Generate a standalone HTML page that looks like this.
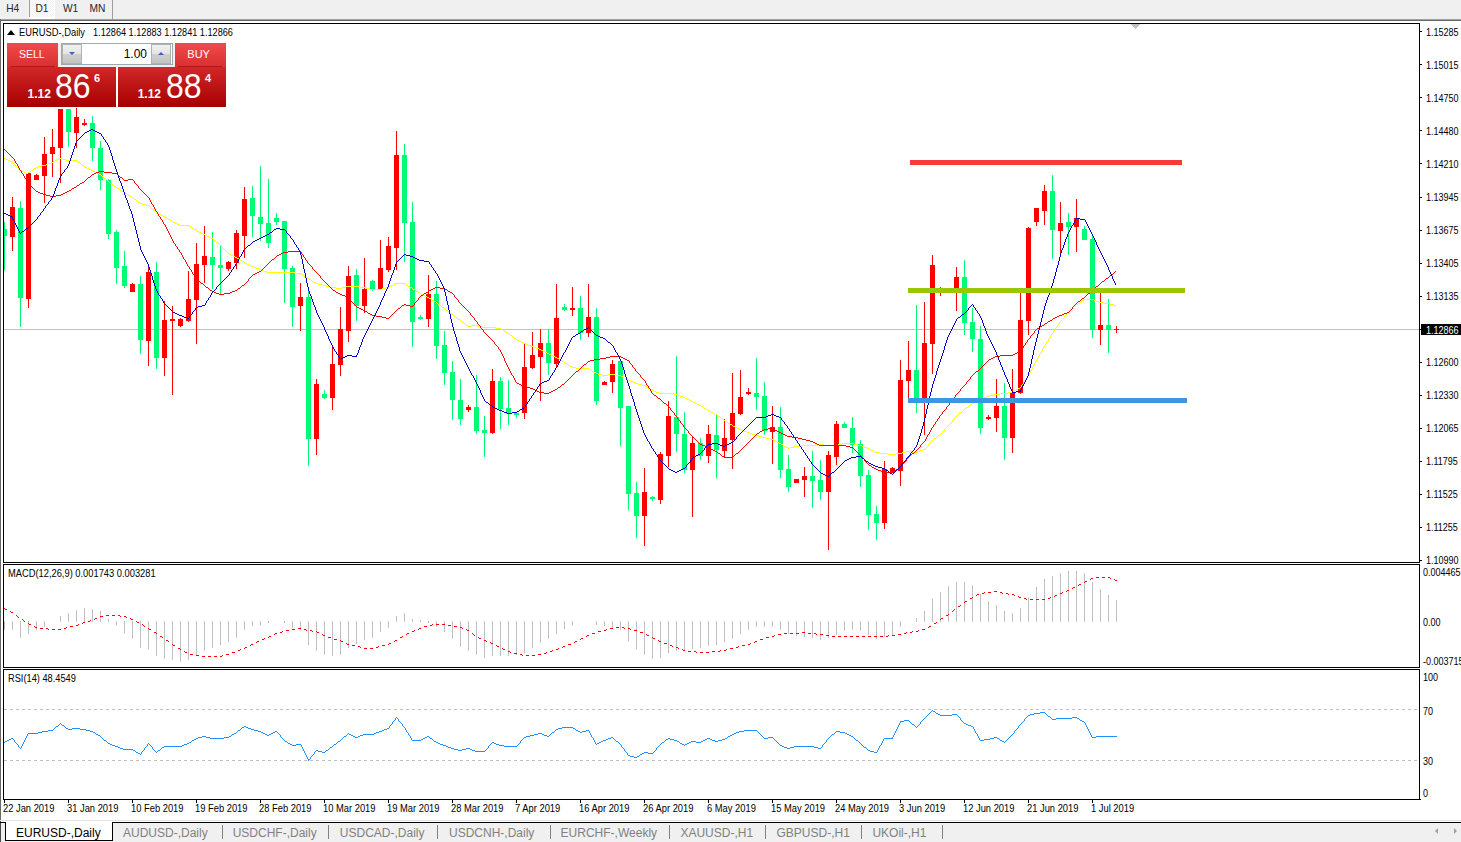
<!DOCTYPE html><html><head><meta charset="utf-8"><title>chart</title><style>
html,body{margin:0;padding:0;background:#fff;}
body{width:1461px;height:842px;overflow:hidden;position:relative;font-family:"Liberation Sans",sans-serif;}
.t{position:absolute;white-space:nowrap;color:#000;font-size:10px;line-height:10px;transform:scaleX(0.9);transform-origin:0 0;}
#tb{position:absolute;left:0;top:0;width:1461px;height:19px;background:#f0f0f0;}
#l19{position:absolute;left:0;top:19px;width:1461px;height:1px;background:#a0a0a0;}
#l20{position:absolute;left:0;top:20px;width:1461px;height:1px;background:#696969;}
.tbt{position:absolute;top:0.7px;font-size:10.2px;line-height:15px;color:#282828;}
#bot{position:absolute;left:0;top:823px;width:1461px;height:19px;background:#f0f0f0;}
#botl{position:absolute;left:0;top:822px;width:1461px;height:1px;background:#000;}
#botg{position:absolute;left:0;top:820px;width:1461px;height:1px;background:#e3e3e3;}
.tab{position:absolute;top:826px;font-size:12px;line-height:15px;color:#808080;white-space:nowrap;}
.sep{position:absolute;top:825px;width:1px;height:14px;background:#808080;}
#atab{position:absolute;left:5px;top:822px;width:106px;height:18px;background:#fff;border-left:1px solid #000;border-right:1px solid #000;border-bottom:1px solid #000;}
svg{position:absolute;left:0;top:0;}
.btn{position:absolute;color:#fff;}
</style></head><body>
<div id="tb"></div><div id="l19"></div><div id="l20"></div>
<div style="position:absolute;left:29px;top:0;width:26px;height:19px;background:#fff;"></div>
<div style="position:absolute;left:30px;top:0;width:24px;height:17px;background-color:#f0f0f0;background-image:linear-gradient(45deg,#fff 25%,transparent 25%,transparent 75%,#fff 75%),linear-gradient(45deg,#fff 25%,transparent 25%,transparent 75%,#fff 75%);background-size:2px 2px;background-position:0 0,1px 1px;"></div>
<div style="position:absolute;left:29px;top:0;width:1px;height:17px;background:#a0a0a0;"></div>
<div style="position:absolute;left:112px;top:0;width:1px;height:19px;background:#a0a0a0;"></div>
<div class="tbt" style="left:6.2px">H4</div>
<div class="tbt" style="left:35.4px">D1</div>
<div class="tbt" style="left:63px">W1</div>
<div class="tbt" style="left:89.5px">MN</div>
<svg width="1461" height="842" viewBox="0 0 1461 842" shape-rendering="crispEdges"><rect x="4" y="329" width="1415" height="1" fill="#c0c0c0"/>
<rect x="4" y="222" width="1" height="48" fill="#00fa7a"/>
<rect x="2" y="229" width="5" height="7" fill="#00fa7a"/>
<rect x="12" y="197" width="1" height="54" fill="#ff0000"/>
<rect x="10" y="207" width="5" height="30" fill="#ff0000"/>
<rect x="20" y="201" width="1" height="126" fill="#00fa7a"/>
<rect x="18" y="208" width="5" height="90" fill="#00fa7a"/>
<rect x="28" y="172" width="1" height="136" fill="#ff0000"/>
<rect x="26" y="173" width="5" height="126" fill="#ff0000"/>
<rect x="36" y="174" width="1" height="6" fill="#ff0000"/>
<rect x="34" y="175" width="5" height="5" fill="#ff0000"/>
<rect x="44" y="137" width="1" height="66" fill="#ff0000"/>
<rect x="42" y="154" width="5" height="22" fill="#ff0000"/>
<rect x="52" y="129" width="1" height="48" fill="#ff0000"/>
<rect x="50" y="147" width="5" height="7" fill="#ff0000"/>
<rect x="60" y="109" width="1" height="74" fill="#ff0000"/>
<rect x="58" y="109" width="5" height="39" fill="#ff0000"/>
<rect x="68" y="109" width="1" height="38" fill="#00fa7a"/>
<rect x="66" y="109" width="5" height="23" fill="#00fa7a"/>
<rect x="76" y="108" width="1" height="40" fill="#ff0000"/>
<rect x="74" y="117" width="5" height="16" fill="#ff0000"/>
<rect x="84" y="119" width="1" height="7" fill="#ff0000"/>
<rect x="82" y="123" width="5" height="2" fill="#ff0000"/>
<rect x="92" y="116" width="1" height="45" fill="#00fa7a"/>
<rect x="90" y="123" width="5" height="25" fill="#00fa7a"/>
<rect x="100" y="141" width="1" height="49" fill="#00fa7a"/>
<rect x="98" y="148" width="5" height="32" fill="#00fa7a"/>
<rect x="108" y="179" width="1" height="60" fill="#00fa7a"/>
<rect x="106" y="180" width="5" height="54" fill="#00fa7a"/>
<rect x="116" y="230" width="1" height="54" fill="#00fa7a"/>
<rect x="114" y="232" width="5" height="36" fill="#00fa7a"/>
<rect x="124" y="251" width="1" height="37" fill="#00fa7a"/>
<rect x="122" y="266" width="5" height="20" fill="#00fa7a"/>
<rect x="132" y="283" width="1" height="9" fill="#ff0000"/>
<rect x="130" y="284" width="5" height="8" fill="#ff0000"/>
<rect x="140" y="276" width="1" height="78" fill="#00fa7a"/>
<rect x="138" y="284" width="5" height="56" fill="#00fa7a"/>
<rect x="148" y="267" width="1" height="99" fill="#ff0000"/>
<rect x="146" y="272" width="5" height="69" fill="#ff0000"/>
<rect x="156" y="262" width="1" height="107" fill="#00fa7a"/>
<rect x="154" y="272" width="5" height="86" fill="#00fa7a"/>
<rect x="164" y="301" width="1" height="75" fill="#ff0000"/>
<rect x="162" y="320" width="5" height="38" fill="#ff0000"/>
<rect x="172" y="306" width="1" height="89" fill="#ff0000"/>
<rect x="170" y="319" width="5" height="2" fill="#ff0000"/>
<rect x="180" y="318" width="1" height="9" fill="#ff0000"/>
<rect x="178" y="319" width="5" height="7" fill="#ff0000"/>
<rect x="188" y="271" width="1" height="51" fill="#ff0000"/>
<rect x="186" y="299" width="5" height="22" fill="#ff0000"/>
<rect x="196" y="243" width="1" height="101" fill="#ff0000"/>
<rect x="194" y="264" width="5" height="36" fill="#ff0000"/>
<rect x="204" y="226" width="1" height="57" fill="#ff0000"/>
<rect x="202" y="256" width="5" height="9" fill="#ff0000"/>
<rect x="212" y="232" width="1" height="57" fill="#00fa7a"/>
<rect x="210" y="257" width="5" height="8" fill="#00fa7a"/>
<rect x="220" y="245" width="1" height="49" fill="#00fa7a"/>
<rect x="218" y="265" width="5" height="3" fill="#00fa7a"/>
<rect x="228" y="261" width="1" height="10" fill="#ff0000"/>
<rect x="226" y="262" width="5" height="7" fill="#ff0000"/>
<rect x="236" y="230" width="1" height="39" fill="#ff0000"/>
<rect x="234" y="233" width="5" height="30" fill="#ff0000"/>
<rect x="244" y="187" width="1" height="71" fill="#ff0000"/>
<rect x="242" y="199" width="5" height="37" fill="#ff0000"/>
<rect x="252" y="186" width="1" height="51" fill="#00fa7a"/>
<rect x="250" y="198" width="5" height="18" fill="#00fa7a"/>
<rect x="260" y="166" width="1" height="75" fill="#00fa7a"/>
<rect x="258" y="217" width="5" height="7" fill="#00fa7a"/>
<rect x="268" y="179" width="1" height="69" fill="#00fa7a"/>
<rect x="266" y="223" width="5" height="20" fill="#00fa7a"/>
<rect x="276" y="213" width="1" height="12" fill="#00fa7a"/>
<rect x="274" y="218" width="5" height="4" fill="#00fa7a"/>
<rect x="284" y="221" width="1" height="82" fill="#00fa7a"/>
<rect x="282" y="221" width="5" height="48" fill="#00fa7a"/>
<rect x="292" y="266" width="1" height="61" fill="#00fa7a"/>
<rect x="290" y="268" width="5" height="39" fill="#00fa7a"/>
<rect x="300" y="283" width="1" height="48" fill="#ff0000"/>
<rect x="298" y="297" width="5" height="9" fill="#ff0000"/>
<rect x="308" y="288" width="1" height="178" fill="#00fa7a"/>
<rect x="306" y="297" width="5" height="142" fill="#00fa7a"/>
<rect x="316" y="379" width="1" height="76" fill="#ff0000"/>
<rect x="314" y="384" width="5" height="55" fill="#ff0000"/>
<rect x="324" y="390" width="1" height="9" fill="#00fa7a"/>
<rect x="322" y="394" width="5" height="4" fill="#00fa7a"/>
<rect x="332" y="346" width="1" height="64" fill="#ff0000"/>
<rect x="330" y="364" width="5" height="34" fill="#ff0000"/>
<rect x="340" y="307" width="1" height="69" fill="#ff0000"/>
<rect x="338" y="329" width="5" height="36" fill="#ff0000"/>
<rect x="348" y="266" width="1" height="76" fill="#ff0000"/>
<rect x="346" y="276" width="5" height="55" fill="#ff0000"/>
<rect x="356" y="269" width="1" height="52" fill="#00fa7a"/>
<rect x="354" y="275" width="5" height="31" fill="#00fa7a"/>
<rect x="364" y="258" width="1" height="55" fill="#ff0000"/>
<rect x="362" y="289" width="5" height="17" fill="#ff0000"/>
<rect x="372" y="280" width="1" height="11" fill="#00fa7a"/>
<rect x="370" y="281" width="5" height="8" fill="#00fa7a"/>
<rect x="380" y="240" width="1" height="49" fill="#ff0000"/>
<rect x="378" y="268" width="5" height="21" fill="#ff0000"/>
<rect x="388" y="237" width="1" height="35" fill="#ff0000"/>
<rect x="386" y="246" width="5" height="24" fill="#ff0000"/>
<rect x="396" y="131" width="1" height="139" fill="#ff0000"/>
<rect x="394" y="155" width="5" height="93" fill="#ff0000"/>
<rect x="404" y="144" width="1" height="118" fill="#00fa7a"/>
<rect x="402" y="155" width="5" height="68" fill="#00fa7a"/>
<rect x="412" y="202" width="1" height="145" fill="#00fa7a"/>
<rect x="410" y="222" width="5" height="100" fill="#00fa7a"/>
<rect x="420" y="315" width="1" height="5" fill="#00fa7a"/>
<rect x="418" y="317" width="5" height="2" fill="#00fa7a"/>
<rect x="428" y="275" width="1" height="52" fill="#ff0000"/>
<rect x="426" y="294" width="5" height="25" fill="#ff0000"/>
<rect x="436" y="281" width="1" height="78" fill="#00fa7a"/>
<rect x="434" y="294" width="5" height="52" fill="#00fa7a"/>
<rect x="444" y="331" width="1" height="54" fill="#00fa7a"/>
<rect x="442" y="345" width="5" height="28" fill="#00fa7a"/>
<rect x="452" y="361" width="1" height="59" fill="#00fa7a"/>
<rect x="450" y="372" width="5" height="28" fill="#00fa7a"/>
<rect x="460" y="379" width="1" height="46" fill="#00fa7a"/>
<rect x="458" y="400" width="5" height="19" fill="#00fa7a"/>
<rect x="468" y="405" width="1" height="7" fill="#ff0000"/>
<rect x="466" y="407" width="5" height="3" fill="#ff0000"/>
<rect x="476" y="375" width="1" height="59" fill="#00fa7a"/>
<rect x="474" y="407" width="5" height="24" fill="#00fa7a"/>
<rect x="484" y="416" width="1" height="41" fill="#00fa7a"/>
<rect x="482" y="430" width="5" height="3" fill="#00fa7a"/>
<rect x="492" y="369" width="1" height="65" fill="#ff0000"/>
<rect x="490" y="381" width="5" height="52" fill="#ff0000"/>
<rect x="500" y="377" width="1" height="52" fill="#00fa7a"/>
<rect x="498" y="381" width="5" height="28" fill="#00fa7a"/>
<rect x="508" y="380" width="1" height="45" fill="#00fa7a"/>
<rect x="506" y="408" width="5" height="6" fill="#00fa7a"/>
<rect x="516" y="412" width="1" height="6" fill="#00fa7a"/>
<rect x="514" y="413" width="5" height="2" fill="#00fa7a"/>
<rect x="524" y="344" width="1" height="75" fill="#ff0000"/>
<rect x="522" y="367" width="5" height="46" fill="#ff0000"/>
<rect x="532" y="332" width="1" height="37" fill="#ff0000"/>
<rect x="530" y="355" width="5" height="13" fill="#ff0000"/>
<rect x="540" y="329" width="1" height="72" fill="#ff0000"/>
<rect x="538" y="343" width="5" height="14" fill="#ff0000"/>
<rect x="548" y="329" width="1" height="46" fill="#00fa7a"/>
<rect x="546" y="343" width="5" height="20" fill="#00fa7a"/>
<rect x="556" y="284" width="1" height="83" fill="#ff0000"/>
<rect x="554" y="318" width="5" height="46" fill="#ff0000"/>
<rect x="564" y="304" width="1" height="7" fill="#00fa7a"/>
<rect x="562" y="307" width="5" height="3" fill="#00fa7a"/>
<rect x="572" y="287" width="1" height="29" fill="#ff0000"/>
<rect x="570" y="308" width="5" height="2" fill="#ff0000"/>
<rect x="580" y="296" width="1" height="44" fill="#00fa7a"/>
<rect x="578" y="308" width="5" height="25" fill="#00fa7a"/>
<rect x="588" y="284" width="1" height="53" fill="#ff0000"/>
<rect x="586" y="317" width="5" height="16" fill="#ff0000"/>
<rect x="596" y="308" width="1" height="97" fill="#00fa7a"/>
<rect x="594" y="317" width="5" height="84" fill="#00fa7a"/>
<rect x="604" y="381" width="1" height="4" fill="#ff0000"/>
<rect x="602" y="382" width="5" height="3" fill="#ff0000"/>
<rect x="612" y="360" width="1" height="33" fill="#ff0000"/>
<rect x="610" y="364" width="5" height="18" fill="#ff0000"/>
<rect x="620" y="360" width="1" height="86" fill="#00fa7a"/>
<rect x="618" y="361" width="5" height="47" fill="#00fa7a"/>
<rect x="628" y="406" width="1" height="104" fill="#00fa7a"/>
<rect x="626" y="406" width="5" height="88" fill="#00fa7a"/>
<rect x="636" y="482" width="1" height="56" fill="#00fa7a"/>
<rect x="634" y="493" width="5" height="23" fill="#00fa7a"/>
<rect x="644" y="468" width="1" height="78" fill="#ff0000"/>
<rect x="642" y="492" width="5" height="24" fill="#ff0000"/>
<rect x="652" y="496" width="1" height="5" fill="#00fa7a"/>
<rect x="650" y="497" width="5" height="2" fill="#00fa7a"/>
<rect x="660" y="452" width="1" height="52" fill="#ff0000"/>
<rect x="658" y="454" width="5" height="46" fill="#ff0000"/>
<rect x="668" y="401" width="1" height="66" fill="#ff0000"/>
<rect x="666" y="416" width="5" height="40" fill="#ff0000"/>
<rect x="676" y="356" width="1" height="96" fill="#00fa7a"/>
<rect x="674" y="417" width="5" height="17" fill="#00fa7a"/>
<rect x="684" y="412" width="1" height="61" fill="#00fa7a"/>
<rect x="682" y="434" width="5" height="36" fill="#00fa7a"/>
<rect x="692" y="436" width="1" height="81" fill="#ff0000"/>
<rect x="690" y="443" width="5" height="27" fill="#ff0000"/>
<rect x="700" y="438" width="1" height="22" fill="#00fa7a"/>
<rect x="698" y="443" width="5" height="13" fill="#00fa7a"/>
<rect x="708" y="425" width="1" height="38" fill="#ff0000"/>
<rect x="706" y="434" width="5" height="22" fill="#ff0000"/>
<rect x="716" y="415" width="1" height="63" fill="#00fa7a"/>
<rect x="714" y="435" width="5" height="15" fill="#00fa7a"/>
<rect x="724" y="419" width="1" height="38" fill="#ff0000"/>
<rect x="722" y="438" width="5" height="13" fill="#ff0000"/>
<rect x="732" y="373" width="1" height="96" fill="#ff0000"/>
<rect x="730" y="413" width="5" height="27" fill="#ff0000"/>
<rect x="740" y="370" width="1" height="45" fill="#ff0000"/>
<rect x="738" y="397" width="5" height="17" fill="#ff0000"/>
<rect x="748" y="388" width="1" height="7" fill="#ff0000"/>
<rect x="746" y="392" width="5" height="2" fill="#ff0000"/>
<rect x="756" y="358" width="1" height="52" fill="#00fa7a"/>
<rect x="754" y="393" width="5" height="4" fill="#00fa7a"/>
<rect x="764" y="382" width="1" height="53" fill="#00fa7a"/>
<rect x="762" y="396" width="5" height="35" fill="#00fa7a"/>
<rect x="772" y="406" width="1" height="58" fill="#ff0000"/>
<rect x="770" y="427" width="5" height="5" fill="#ff0000"/>
<rect x="780" y="407" width="1" height="71" fill="#00fa7a"/>
<rect x="778" y="427" width="5" height="43" fill="#00fa7a"/>
<rect x="788" y="455" width="1" height="37" fill="#00fa7a"/>
<rect x="786" y="469" width="5" height="18" fill="#00fa7a"/>
<rect x="796" y="479" width="1" height="4" fill="#ff0000"/>
<rect x="794" y="479" width="5" height="4" fill="#ff0000"/>
<rect x="804" y="467" width="1" height="30" fill="#ff0000"/>
<rect x="802" y="476" width="5" height="4" fill="#ff0000"/>
<rect x="812" y="451" width="1" height="57" fill="#00fa7a"/>
<rect x="810" y="476" width="5" height="5" fill="#00fa7a"/>
<rect x="820" y="460" width="1" height="40" fill="#00fa7a"/>
<rect x="818" y="480" width="5" height="12" fill="#00fa7a"/>
<rect x="828" y="451" width="1" height="99" fill="#ff0000"/>
<rect x="826" y="455" width="5" height="37" fill="#ff0000"/>
<rect x="836" y="421" width="1" height="44" fill="#ff0000"/>
<rect x="834" y="424" width="5" height="33" fill="#ff0000"/>
<rect x="844" y="422" width="1" height="6" fill="#00fa7a"/>
<rect x="842" y="424" width="5" height="4" fill="#00fa7a"/>
<rect x="852" y="417" width="1" height="36" fill="#00fa7a"/>
<rect x="850" y="428" width="5" height="17" fill="#00fa7a"/>
<rect x="860" y="440" width="1" height="47" fill="#00fa7a"/>
<rect x="858" y="444" width="5" height="32" fill="#00fa7a"/>
<rect x="868" y="470" width="1" height="60" fill="#00fa7a"/>
<rect x="866" y="475" width="5" height="40" fill="#00fa7a"/>
<rect x="876" y="506" width="1" height="34" fill="#00fa7a"/>
<rect x="874" y="514" width="5" height="9" fill="#00fa7a"/>
<rect x="884" y="461" width="1" height="68" fill="#ff0000"/>
<rect x="882" y="469" width="5" height="54" fill="#ff0000"/>
<rect x="892" y="467" width="1" height="6" fill="#ff0000"/>
<rect x="890" y="468" width="5" height="5" fill="#ff0000"/>
<rect x="900" y="360" width="1" height="126" fill="#ff0000"/>
<rect x="898" y="380" width="5" height="91" fill="#ff0000"/>
<rect x="908" y="341" width="1" height="62" fill="#ff0000"/>
<rect x="906" y="370" width="5" height="11" fill="#ff0000"/>
<rect x="916" y="305" width="1" height="108" fill="#00fa7a"/>
<rect x="914" y="370" width="5" height="28" fill="#00fa7a"/>
<rect x="924" y="302" width="1" height="133" fill="#ff0000"/>
<rect x="922" y="343" width="5" height="55" fill="#ff0000"/>
<rect x="932" y="255" width="1" height="119" fill="#ff0000"/>
<rect x="930" y="265" width="5" height="79" fill="#ff0000"/>
<rect x="940" y="287" width="1" height="9" fill="#ff0000"/>
<rect x="938" y="289" width="5" height="3" fill="#ff0000"/>
<rect x="956" y="267" width="1" height="44" fill="#ff0000"/>
<rect x="954" y="277" width="5" height="13" fill="#ff0000"/>
<rect x="964" y="260" width="1" height="75" fill="#00fa7a"/>
<rect x="962" y="277" width="5" height="46" fill="#00fa7a"/>
<rect x="972" y="308" width="1" height="44" fill="#00fa7a"/>
<rect x="970" y="322" width="5" height="17" fill="#00fa7a"/>
<rect x="980" y="326" width="1" height="108" fill="#00fa7a"/>
<rect x="978" y="339" width="5" height="89" fill="#00fa7a"/>
<rect x="988" y="415" width="1" height="5" fill="#ff0000"/>
<rect x="986" y="417" width="5" height="2" fill="#ff0000"/>
<rect x="996" y="379" width="1" height="53" fill="#ff0000"/>
<rect x="994" y="406" width="5" height="12" fill="#ff0000"/>
<rect x="1004" y="383" width="1" height="77" fill="#00fa7a"/>
<rect x="1002" y="406" width="5" height="32" fill="#00fa7a"/>
<rect x="1012" y="369" width="1" height="84" fill="#ff0000"/>
<rect x="1010" y="392" width="5" height="46" fill="#ff0000"/>
<rect x="1020" y="293" width="1" height="101" fill="#ff0000"/>
<rect x="1018" y="320" width="5" height="73" fill="#ff0000"/>
<rect x="1028" y="227" width="1" height="108" fill="#ff0000"/>
<rect x="1026" y="228" width="5" height="93" fill="#ff0000"/>
<rect x="1036" y="208" width="1" height="18" fill="#ff0000"/>
<rect x="1034" y="208" width="5" height="14" fill="#ff0000"/>
<rect x="1044" y="185" width="1" height="40" fill="#ff0000"/>
<rect x="1042" y="191" width="5" height="20" fill="#ff0000"/>
<rect x="1052" y="175" width="1" height="84" fill="#00fa7a"/>
<rect x="1050" y="191" width="5" height="39" fill="#00fa7a"/>
<rect x="1060" y="202" width="1" height="52" fill="#ff0000"/>
<rect x="1058" y="223" width="5" height="8" fill="#ff0000"/>
<rect x="1068" y="213" width="1" height="42" fill="#00fa7a"/>
<rect x="1066" y="222" width="5" height="5" fill="#00fa7a"/>
<rect x="1076" y="199" width="1" height="53" fill="#ff0000"/>
<rect x="1074" y="218" width="5" height="9" fill="#ff0000"/>
<rect x="1084" y="226" width="1" height="14" fill="#00fa7a"/>
<rect x="1082" y="229" width="5" height="11" fill="#00fa7a"/>
<rect x="1092" y="234" width="1" height="104" fill="#00fa7a"/>
<rect x="1090" y="239" width="5" height="91" fill="#00fa7a"/>
<rect x="1100" y="290" width="1" height="55" fill="#ff0000"/>
<rect x="1098" y="325" width="5" height="5" fill="#ff0000"/>
<rect x="1108" y="299" width="1" height="54" fill="#00fa7a"/>
<rect x="1106" y="325" width="5" height="5" fill="#00fa7a"/>
<rect x="1116" y="326" width="1" height="7" fill="#ff0000"/>
<rect x="1114" y="329" width="5" height="1" fill="#ff0000"/>
<path d="M4 158h2v1h-2zM59 158h3v1h-3zM6 159h2v1h-2zM57 159h2v1h-2zM62 159h4v1h-4zM8 160h2v1h-2zM55 160h2v1h-2zM66 160h11v1h-11zM10 161h2v1h-2zM53 161h2v1h-2zM77 161h1v1h-1zM12 162h1v1h-1zM51 162h2v1h-2zM78 162h2v1h-2zM13 163h1v1h-1zM48 163h3v1h-3zM80 163h1v1h-1zM14 164h1v1h-1zM46 164h2v1h-2zM81 164h1v1h-1zM15 165h1v1h-1zM42 165h4v1h-4zM82 165h2v1h-2zM16 166h1v1h-1zM38 166h4v1h-4zM84 166h1v1h-1zM17 167h1v1h-1zM36 167h2v1h-2zM85 167h2v1h-2zM18 168h1v1h-1zM34 168h2v1h-2zM87 168h2v1h-2zM19 169h1v1h-1zM33 169h1v1h-1zM89 169h2v1h-2zM20 170h2v1h-2zM31 170h2v1h-2zM91 170h2v1h-2zM22 171h2v1h-2zM30 171h1v1h-1zM93 171h2v1h-2zM24 172h2v1h-2zM28 172h2v1h-2zM95 172h2v1h-2zM26 173h2v1h-2zM97 173h2v1h-2zM99 174h2v1h-2zM101 175h1v1h-1zM102 176h1v1h-1zM103 177h1v1h-1zM104 178h2v1h-2zM106 179h1v1h-1zM107 180h1v1h-1zM108 181h1v1h-1zM109 182h1v1h-1zM110 183h2v1h-2zM112 184h1v1h-1zM113 185h1v1h-1zM114 186h2v1h-2zM116 187h1v1h-1zM117 188h2v1h-2zM119 189h1v1h-1zM120 190h2v1h-2zM122 191h2v1h-2zM124 192h1v1h-1zM125 193h2v1h-2zM127 194h1v1h-1zM128 195h2v1h-2zM130 196h2v1h-2zM132 197h1v1h-1zM133 198h1v1h-1zM134 199h2v1h-2zM136 200h1v1h-1zM137 201h1v1h-1zM138 202h2v1h-2zM140 203h2v1h-2zM142 204h4v1h-4zM146 205h3v1h-3zM149 206h1v1h-1zM150 207h1v1h-1zM151 208h1v1h-1zM152 209h2v1h-2zM154 210h1v1h-1zM155 211h1v1h-1zM156 212h1v1h-1zM157 213h2v1h-2zM159 214h2v1h-2zM161 215h2v1h-2zM163 216h2v1h-2zM165 217h2v1h-2zM167 218h1v1h-1zM168 219h2v1h-2zM170 220h2v1h-2zM172 221h1v1h-1zM173 222h2v1h-2zM175 223h2v1h-2zM177 224h2v1h-2zM179 225h10v1h-10zM189 226h2v1h-2zM191 227h1v1h-1zM192 228h2v1h-2zM194 229h2v1h-2zM196 230h1v1h-1zM197 231h2v1h-2zM199 232h2v1h-2zM201 233h2v1h-2zM203 234h2v1h-2zM205 235h2v1h-2zM207 236h2v1h-2zM209 237h2v1h-2zM211 238h2v1h-2zM213 239h1v1h-1zM214 240h1v1h-1zM215 241h1v1h-1zM216 242h2v1h-2zM218 243h1v1h-1zM219 244h1v1h-1zM220 245h1v1h-1zM221 246h1v1h-1zM222 247h1v1h-1zM223 248h1v1h-1zM224 249h1v1h-1zM225 250h1v1h-1zM226 251h1v1h-1zM227 252h1v1h-1zM228 253h1v1h-1zM229 254h2v1h-2zM231 255h2v1h-2zM233 256h2v1h-2zM235 257h2v1h-2zM237 258h2v1h-2zM239 259h1v1h-1zM240 260h2v1h-2zM242 261h2v1h-2zM244 262h1v1h-1zM245 263h2v1h-2zM247 264h2v1h-2zM249 265h2v1h-2zM251 266h3v1h-3zM254 267h2v1h-2zM256 268h3v1h-3zM259 269h3v1h-3zM262 270h2v1h-2zM264 271h3v1h-3zM267 272h29v1h-29zM296 273h5v1h-5zM301 274h2v1h-2zM303 275h1v1h-1zM304 276h2v1h-2zM306 277h2v1h-2zM308 278h1v1h-1zM309 279h2v1h-2zM311 280h1v1h-1zM312 281h2v1h-2zM314 282h2v1h-2zM316 283h2v1h-2zM395 283h10v1h-10zM318 284h4v1h-4zM393 284h2v1h-2zM405 284h2v1h-2zM322 285h4v1h-4zM391 285h2v1h-2zM407 285h1v1h-1zM326 286h4v1h-4zM346 286h14v1h-14zM389 286h2v1h-2zM408 286h2v1h-2zM330 287h6v1h-6zM342 287h4v1h-4zM360 287h6v1h-6zM386 287h3v1h-3zM410 287h2v1h-2zM336 288h6v1h-6zM366 288h4v1h-4zM382 288h4v1h-4zM412 288h1v1h-1zM370 289h12v1h-12zM413 289h2v1h-2zM415 290h1v1h-1zM416 291h2v1h-2zM418 292h2v1h-2zM420 293h1v1h-1zM421 294h2v1h-2zM423 295h2v1h-2zM425 296h2v1h-2zM427 297h2v1h-2zM429 298h2v1h-2zM431 299h1v1h-1zM1084 299h10v1h-10zM432 300h2v1h-2zM1082 300h2v1h-2zM1094 300h2v1h-2zM434 301h2v1h-2zM1081 301h1v1h-1zM1096 301h3v1h-3zM436 302h1v1h-1zM1080 302h1v1h-1zM1099 302h5v1h-5zM437 303h1v1h-1zM1078 303h2v1h-2zM1104 303h6v1h-6zM438 304h2v1h-2zM1077 304h1v1h-1zM1110 304h4v1h-4zM440 305h1v1h-1zM1076 305h1v1h-1zM1114 305h2v1h-2zM441 306h1v1h-1zM1075 306h1v1h-1zM442 307h2v1h-2zM1074 307h1v1h-1zM444 308h1v1h-1zM1072 308h2v1h-2zM445 309h1v1h-1zM1071 309h1v1h-1zM446 310h2v1h-2zM1070 310h1v1h-1zM448 311h1v1h-1zM1069 311h1v1h-1zM449 312h1v1h-1zM1068 312h1v1h-1zM450 313h2v1h-2zM1067 313h1v1h-1zM452 314h1v1h-1zM1066 314h1v1h-1zM453 315h1v1h-1zM1065 315h1v1h-1zM454 316h2v1h-2zM1064 316h1v2h-1zM456 317h1v1h-1zM457 318h1v1h-1zM1063 318h1v1h-1zM458 319h2v1h-2zM1062 319h1v1h-1zM460 320h1v1h-1zM1061 320h1v1h-1zM461 321h1v1h-1zM1060 321h1v1h-1zM462 322h2v1h-2zM1059 322h1v2h-1zM464 323h1v1h-1zM465 324h1v1h-1zM1058 324h1v1h-1zM466 325h2v1h-2zM472 325h6v1h-6zM1057 325h1v2h-1zM468 326h4v1h-4zM478 326h4v1h-4zM482 327h14v1h-14zM1056 327h1v1h-1zM496 328h5v1h-5zM1055 328h1v2h-1zM501 329h2v1h-2zM503 330h1v1h-1zM1054 330h1v1h-1zM504 331h2v1h-2zM1053 331h1v2h-1zM506 332h2v1h-2zM508 333h1v1h-1zM1052 333h1v1h-1zM509 334h1v1h-1zM1051 334h1v2h-1zM510 335h2v1h-2zM512 336h1v1h-1zM1050 336h1v2h-1zM513 337h1v1h-1zM514 338h2v1h-2zM1049 338h1v1h-1zM516 339h1v1h-1zM1048 339h1v2h-1zM517 340h2v1h-2zM519 341h2v1h-2zM1047 341h1v1h-1zM521 342h2v1h-2zM1046 342h1v2h-1zM523 343h3v1h-3zM526 344h2v1h-2zM1045 344h1v2h-1zM528 345h3v1h-3zM531 346h3v1h-3zM1044 346h1v1h-1zM534 347h2v1h-2zM1043 347h1v2h-1zM536 348h3v1h-3zM539 349h2v1h-2zM1042 349h1v2h-1zM541 350h2v1h-2zM543 351h2v1h-2zM1041 351h1v2h-1zM545 352h2v1h-2zM547 353h2v1h-2zM1040 353h1v1h-1zM549 354h2v1h-2zM1039 354h1v2h-1zM551 355h2v1h-2zM553 356h2v1h-2zM1038 356h1v2h-1zM555 357h2v1h-2zM557 358h2v1h-2zM1037 358h1v2h-1zM559 359h1v1h-1zM560 360h2v1h-2zM1036 360h1v1h-1zM562 361h2v1h-2zM1035 361h1v2h-1zM564 362h1v1h-1zM565 363h2v1h-2zM1034 363h1v2h-1zM567 364h1v1h-1zM568 365h2v1h-2zM1033 365h1v2h-1zM570 366h2v1h-2zM572 367h4v1h-4zM1032 367h1v2h-1zM576 368h13v1h-13zM589 369h2v1h-2zM1031 369h1v2h-1zM591 370h1v1h-1zM592 371h2v1h-2zM1030 371h1v2h-1zM594 372h2v1h-2zM596 373h2v1h-2zM1029 373h1v2h-1zM598 374h4v1h-4zM608 374h8v1h-8zM602 375h6v1h-6zM616 375h5v1h-5zM1028 375h1v1h-1zM621 376h2v1h-2zM1027 376h1v2h-1zM623 377h2v1h-2zM625 378h2v1h-2zM1026 378h1v1h-1zM627 379h2v1h-2zM1025 379h1v2h-1zM629 380h2v1h-2zM631 381h2v1h-2zM1024 381h1v1h-1zM633 382h2v1h-2zM1023 382h1v2h-1zM635 383h3v1h-3zM638 384h4v1h-4zM1022 384h1v1h-1zM642 385h3v1h-3zM1021 385h1v2h-1zM645 386h2v1h-2zM647 387h1v1h-1zM1020 387h1v1h-1zM648 388h2v1h-2zM1018 388h2v1h-2zM650 389h2v1h-2zM1016 389h2v1h-2zM652 390h2v1h-2zM1015 390h1v1h-1zM654 391h2v1h-2zM1013 391h2v1h-2zM656 392h3v1h-3zM1008 392h5v1h-5zM659 393h15v1h-15zM1000 393h8v1h-8zM674 394h4v1h-4zM994 394h6v1h-6zM678 395h2v1h-2zM990 395h4v1h-4zM680 396h3v1h-3zM987 396h3v1h-3zM683 397h2v1h-2zM984 397h3v1h-3zM685 398h2v1h-2zM982 398h2v1h-2zM687 399h2v1h-2zM979 399h3v1h-3zM689 400h2v1h-2zM977 400h2v1h-2zM691 401h2v1h-2zM975 401h2v1h-2zM693 402h2v1h-2zM973 402h2v1h-2zM695 403h2v1h-2zM972 403h1v1h-1zM697 404h2v1h-2zM970 404h2v1h-2zM699 405h2v1h-2zM969 405h1v1h-1zM701 406h2v1h-2zM968 406h1v1h-1zM703 407h1v1h-1zM966 407h2v1h-2zM704 408h2v1h-2zM965 408h1v1h-1zM706 409h2v1h-2zM964 409h1v1h-1zM708 410h1v1h-1zM963 410h1v1h-1zM709 411h2v1h-2zM962 411h1v1h-1zM711 412h2v1h-2zM960 412h2v1h-2zM713 413h2v1h-2zM959 413h1v1h-1zM715 414h2v1h-2zM958 414h1v1h-1zM717 415h1v1h-1zM957 415h1v1h-1zM718 416h2v1h-2zM956 416h1v1h-1zM720 417h1v1h-1zM955 417h1v1h-1zM721 418h1v1h-1zM954 418h1v1h-1zM722 419h2v1h-2zM953 419h1v1h-1zM724 420h1v1h-1zM952 420h1v2h-1zM725 421h2v1h-2zM727 422h1v1h-1zM951 422h1v1h-1zM728 423h2v1h-2zM950 423h1v1h-1zM730 424h2v1h-2zM949 424h1v1h-1zM732 425h1v1h-1zM948 425h1v1h-1zM733 426h2v1h-2zM947 426h1v1h-1zM735 427h2v1h-2zM946 427h1v1h-1zM737 428h2v1h-2zM945 428h1v1h-1zM739 429h3v1h-3zM944 429h1v2h-1zM742 430h2v1h-2zM744 431h3v1h-3zM943 431h1v1h-1zM747 432h3v1h-3zM942 432h1v1h-1zM750 433h2v1h-2zM941 433h1v1h-1zM752 434h3v1h-3zM940 434h1v1h-1zM755 435h3v1h-3zM938 435h2v1h-2zM758 436h4v1h-4zM937 436h1v1h-1zM762 437h4v1h-4zM936 437h1v1h-1zM766 438h4v1h-4zM934 438h2v1h-2zM770 439h3v1h-3zM933 439h1v1h-1zM773 440h2v1h-2zM932 440h1v1h-1zM775 441h2v1h-2zM931 441h1v1h-1zM777 442h2v1h-2zM930 442h1v1h-1zM779 443h2v1h-2zM842 443h12v1h-12zM929 443h1v1h-1zM781 444h2v1h-2zM816 444h8v1h-8zM838 444h4v1h-4zM854 444h4v1h-4zM928 444h1v2h-1zM783 445h1v1h-1zM800 445h16v1h-16zM824 445h14v1h-14zM858 445h4v1h-4zM784 446h2v1h-2zM794 446h6v1h-6zM862 446h2v1h-2zM927 446h1v1h-1zM786 447h2v1h-2zM790 447h4v1h-4zM864 447h3v1h-3zM926 447h1v1h-1zM788 448h2v1h-2zM867 448h2v1h-2zM925 448h1v1h-1zM869 449h2v1h-2zM923 449h2v1h-2zM871 450h2v1h-2zM920 450h3v1h-3zM873 451h2v1h-2zM906 451h6v1h-6zM918 451h2v1h-2zM875 452h5v1h-5zM902 452h4v1h-4zM912 452h6v1h-6zM880 453h8v1h-8zM896 453h6v1h-6zM888 454h8v1h-8z" fill="#ffff00"/>
<path d="M4 149h1v1h-1zM5 150h1v1h-1zM6 151h1v1h-1zM7 152h1v1h-1zM8 153h1v1h-1zM9 154h1v1h-1zM10 155h1v1h-1zM11 156h1v1h-1zM12 157h1v1h-1zM13 158h1v1h-1zM14 159h1v2h-1zM15 161h1v2h-1zM16 163h1v1h-1zM17 164h1v2h-1zM18 166h1v2h-1zM19 168h1v2h-1zM20 170h1v1h-1zM21 171h1v2h-1zM99 171h5v1h-5zM96 172h3v1h-3zM104 172h8v1h-8zM22 173h1v1h-1zM94 173h2v1h-2zM112 173h5v1h-5zM23 174h1v2h-1zM92 174h2v1h-2zM117 174h1v1h-1zM91 175h1v1h-1zM118 175h1v1h-1zM24 176h1v2h-1zM90 176h1v1h-1zM119 176h1v1h-1zM88 177h2v1h-2zM120 177h2v1h-2zM25 178h1v1h-1zM87 178h1v1h-1zM122 178h1v1h-1zM26 179h1v1h-1zM86 179h1v1h-1zM123 179h1v1h-1zM128 179h5v1h-5zM27 180h1v2h-1zM85 180h1v1h-1zM124 180h4v1h-4zM133 180h1v1h-1zM84 181h1v1h-1zM134 181h1v2h-1zM28 182h1v1h-1zM82 182h2v1h-2zM29 183h1v1h-1zM80 183h2v1h-2zM135 183h1v1h-1zM30 184h1v2h-1zM79 184h1v1h-1zM136 184h1v1h-1zM77 185h2v1h-2zM137 185h1v1h-1zM31 186h1v1h-1zM76 186h1v1h-1zM138 186h1v2h-1zM32 187h1v1h-1zM74 187h2v1h-2zM33 188h1v1h-1zM72 188h2v1h-2zM139 188h1v1h-1zM34 189h1v1h-1zM71 189h1v1h-1zM140 189h1v1h-1zM35 190h1v1h-1zM69 190h2v1h-2zM141 190h1v1h-1zM36 191h2v1h-2zM67 191h2v1h-2zM142 191h1v1h-1zM38 192h2v1h-2zM65 192h2v1h-2zM143 192h1v1h-1zM40 193h3v1h-3zM63 193h2v1h-2zM144 193h1v1h-1zM43 194h3v1h-3zM61 194h2v1h-2zM145 194h1v1h-1zM46 195h4v1h-4zM56 195h5v1h-5zM146 195h1v1h-1zM50 196h6v1h-6zM147 196h1v1h-1zM148 197h1v1h-1zM149 198h1v2h-1zM150 200h1v2h-1zM151 202h1v2h-1zM152 204h1v1h-1zM153 205h1v2h-1zM154 207h1v2h-1zM155 209h1v2h-1zM156 211h1v1h-1zM157 212h1v2h-1zM158 214h1v2h-1zM159 216h1v1h-1zM160 217h1v2h-1zM161 219h1v1h-1zM162 220h1v2h-1zM163 222h1v2h-1zM164 224h1v1h-1zM165 225h1v2h-1zM166 227h1v2h-1zM167 229h1v2h-1zM168 231h1v2h-1zM169 233h1v2h-1zM170 235h1v2h-1zM171 237h1v2h-1zM172 239h1v2h-1zM173 241h1v2h-1zM174 243h1v1h-1zM175 244h1v2h-1zM176 246h1v1h-1zM177 247h1v2h-1zM178 249h1v1h-1zM179 250h1v2h-1zM288 251h13v1h-13zM180 252h1v1h-1zM283 252h5v1h-5zM301 252h1v2h-1zM181 253h1v2h-1zM281 253h2v1h-2zM279 254h2v1h-2zM302 254h1v1h-1zM182 255h1v2h-1zM277 255h2v1h-2zM303 255h1v2h-1zM276 256h1v1h-1zM183 257h1v2h-1zM275 257h1v1h-1zM304 257h1v1h-1zM274 258h1v1h-1zM305 258h1v2h-1zM184 259h1v1h-1zM272 259h2v1h-2zM185 260h1v2h-1zM271 260h1v1h-1zM306 260h1v1h-1zM270 261h1v1h-1zM307 261h1v2h-1zM186 262h1v2h-1zM269 262h1v1h-1zM268 263h1v1h-1zM308 263h1v1h-1zM187 264h1v2h-1zM267 264h1v1h-1zM309 264h1v1h-1zM266 265h1v1h-1zM310 265h1v1h-1zM188 266h1v1h-1zM265 266h1v1h-1zM311 266h1v1h-1zM189 267h1v2h-1zM264 267h1v1h-1zM312 267h1v2h-1zM263 268h1v1h-1zM190 269h1v1h-1zM262 269h1v1h-1zM313 269h1v1h-1zM191 270h1v2h-1zM261 270h1v1h-1zM314 270h1v1h-1zM259 271h2v1h-2zM315 271h1v1h-1zM1115 271h1v1h-1zM192 272h1v2h-1zM257 272h2v1h-2zM316 272h1v1h-1zM1114 272h1v1h-1zM255 273h2v1h-2zM317 273h1v1h-1zM1113 273h1v1h-1zM193 274h1v1h-1zM253 274h2v1h-2zM318 274h1v1h-1zM1111 274h2v1h-2zM194 275h1v1h-1zM252 275h1v1h-1zM319 275h1v1h-1zM1110 275h1v1h-1zM195 276h1v1h-1zM251 276h1v1h-1zM320 276h1v2h-1zM1109 276h1v1h-1zM196 277h1v2h-1zM250 277h1v1h-1zM1108 277h1v1h-1zM249 278h1v1h-1zM321 278h1v1h-1zM1106 278h2v1h-2zM197 279h1v1h-1zM248 279h1v2h-1zM322 279h1v1h-1zM1105 279h1v1h-1zM198 280h1v1h-1zM323 280h1v1h-1zM1104 280h1v1h-1zM199 281h1v1h-1zM247 281h1v1h-1zM324 281h1v1h-1zM1102 281h2v1h-2zM200 282h1v1h-1zM246 282h1v1h-1zM325 282h1v1h-1zM1101 282h1v1h-1zM201 283h2v1h-2zM245 283h1v1h-1zM326 283h1v1h-1zM1100 283h1v1h-1zM203 284h1v1h-1zM244 284h1v1h-1zM327 284h1v1h-1zM1099 284h1v1h-1zM204 285h1v1h-1zM242 285h2v1h-2zM328 285h1v1h-1zM1098 285h1v1h-1zM205 286h1v1h-1zM241 286h1v1h-1zM329 286h1v1h-1zM1096 286h2v1h-2zM206 287h2v1h-2zM240 287h1v1h-1zM330 287h1v1h-1zM435 287h5v1h-5zM1095 287h1v1h-1zM208 288h1v1h-1zM238 288h2v1h-2zM331 288h1v1h-1zM433 288h2v1h-2zM440 288h5v1h-5zM1094 288h1v1h-1zM209 289h1v1h-1zM237 289h1v1h-1zM332 289h1v1h-1zM431 289h2v1h-2zM445 289h2v1h-2zM1093 289h1v1h-1zM210 290h2v1h-2zM235 290h2v1h-2zM333 290h2v1h-2zM429 290h2v1h-2zM447 290h1v1h-1zM1092 290h1v1h-1zM212 291h2v1h-2zM232 291h3v1h-3zM335 291h1v1h-1zM428 291h1v1h-1zM448 291h2v1h-2zM1091 291h1v1h-1zM214 292h2v1h-2zM230 292h2v1h-2zM336 292h2v1h-2zM426 292h2v1h-2zM450 292h2v1h-2zM1090 292h1v1h-1zM216 293h3v1h-3zM224 293h6v1h-6zM338 293h2v1h-2zM424 293h2v1h-2zM452 293h1v1h-1zM1088 293h2v1h-2zM219 294h5v1h-5zM340 294h2v1h-2zM423 294h1v1h-1zM453 294h1v1h-1zM1087 294h1v1h-1zM342 295h3v1h-3zM421 295h2v1h-2zM454 295h1v2h-1zM1086 295h1v1h-1zM345 296h2v1h-2zM420 296h1v1h-1zM1085 296h1v1h-1zM347 297h1v1h-1zM419 297h1v1h-1zM455 297h1v1h-1zM1084 297h1v1h-1zM348 298h1v1h-1zM418 298h1v2h-1zM456 298h1v1h-1zM1082 298h2v1h-2zM349 299h1v1h-1zM457 299h1v1h-1zM1081 299h1v1h-1zM350 300h1v1h-1zM417 300h1v1h-1zM458 300h1v2h-1zM1080 300h1v1h-1zM351 301h1v1h-1zM416 301h1v1h-1zM1078 301h2v1h-2zM352 302h1v1h-1zM415 302h1v1h-1zM459 302h1v1h-1zM1077 302h1v1h-1zM353 303h1v1h-1zM414 303h1v2h-1zM460 303h1v1h-1zM1076 303h1v1h-1zM354 304h1v1h-1zM404 304h2v1h-2zM461 304h1v1h-1zM1075 304h1v1h-1zM355 305h1v1h-1zM402 305h2v1h-2zM406 305h4v1h-4zM413 305h1v1h-1zM462 305h1v1h-1zM1074 305h1v1h-1zM356 306h1v1h-1zM401 306h1v1h-1zM410 306h3v1h-3zM463 306h1v1h-1zM1073 306h1v1h-1zM357 307h2v1h-2zM400 307h1v1h-1zM464 307h1v1h-1zM1072 307h1v2h-1zM359 308h2v1h-2zM398 308h2v1h-2zM465 308h1v1h-1zM361 309h2v1h-2zM397 309h1v1h-1zM466 309h1v1h-1zM1071 309h1v1h-1zM363 310h2v1h-2zM396 310h1v1h-1zM467 310h1v1h-1zM1070 310h1v1h-1zM365 311h2v1h-2zM395 311h1v1h-1zM468 311h1v1h-1zM1069 311h1v1h-1zM367 312h1v1h-1zM394 312h1v1h-1zM469 312h1v1h-1zM1067 312h2v1h-2zM368 313h2v1h-2zM393 313h1v1h-1zM470 313h1v2h-1zM1064 313h3v1h-3zM370 314h2v1h-2zM392 314h1v1h-1zM1062 314h2v1h-2zM372 315h4v1h-4zM391 315h1v1h-1zM471 315h1v1h-1zM1059 315h3v1h-3zM376 316h6v1h-6zM390 316h1v1h-1zM472 316h1v1h-1zM1057 316h2v1h-2zM382 317h4v1h-4zM389 317h1v1h-1zM473 317h1v1h-1zM1055 317h2v1h-2zM386 318h3v1h-3zM474 318h1v2h-1zM1053 318h2v1h-2zM1052 319h1v1h-1zM475 320h1v1h-1zM1050 320h2v1h-2zM476 321h1v1h-1zM1048 321h2v1h-2zM477 322h1v2h-1zM1047 322h1v1h-1zM1045 323h2v1h-2zM478 324h1v1h-1zM1044 324h1v1h-1zM479 325h1v1h-1zM1042 325h2v1h-2zM480 326h1v2h-1zM1040 326h2v1h-2zM1039 327h1v1h-1zM481 328h1v1h-1zM1037 328h2v1h-2zM482 329h1v1h-1zM1036 329h1v1h-1zM483 330h1v2h-1zM1035 330h1v1h-1zM1034 331h1v2h-1zM484 332h1v1h-1zM485 333h1v1h-1zM1033 333h1v1h-1zM486 334h1v1h-1zM1032 334h1v1h-1zM487 335h1v1h-1zM1031 335h1v1h-1zM488 336h1v1h-1zM1030 336h1v2h-1zM489 337h1v1h-1zM490 338h1v1h-1zM1029 338h1v1h-1zM491 339h1v1h-1zM1028 339h1v1h-1zM492 340h1v1h-1zM1027 340h1v2h-1zM493 341h1v1h-1zM494 342h1v2h-1zM1026 342h1v1h-1zM1025 343h1v2h-1zM495 344h1v1h-1zM496 345h1v1h-1zM1024 345h1v1h-1zM497 346h1v1h-1zM1023 346h1v2h-1zM498 347h1v2h-1zM1022 348h1v1h-1zM499 349h1v1h-1zM1021 349h1v2h-1zM500 350h1v2h-1zM1019 351h2v1h-2zM501 352h1v2h-1zM1017 352h2v1h-2zM1015 353h2v1h-2zM502 354h1v2h-1zM1013 354h2v1h-2zM1000 355h13v1h-13zM503 356h1v2h-1zM610 356h11v1h-11zM995 356h5v1h-5zM606 357h4v1h-4zM621 357h2v1h-2zM993 357h2v1h-2zM504 358h1v3h-1zM600 358h6v1h-6zM623 358h2v1h-2zM991 358h2v1h-2zM594 359h6v1h-6zM625 359h2v1h-2zM989 359h2v1h-2zM590 360h4v1h-4zM627 360h2v1h-2zM988 360h1v1h-1zM505 361h1v2h-1zM588 361h2v1h-2zM629 361h1v2h-1zM987 361h1v1h-1zM587 362h1v1h-1zM986 362h1v1h-1zM506 363h1v2h-1zM586 363h1v1h-1zM630 363h1v1h-1zM985 363h1v1h-1zM584 364h2v1h-2zM631 364h1v1h-1zM984 364h1v1h-1zM507 365h1v2h-1zM583 365h1v1h-1zM632 365h1v2h-1zM983 365h1v1h-1zM582 366h1v1h-1zM982 366h1v1h-1zM508 367h1v2h-1zM581 367h1v1h-1zM633 367h1v1h-1zM981 367h1v1h-1zM580 368h1v1h-1zM634 368h1v1h-1zM980 368h1v1h-1zM509 369h1v2h-1zM579 369h1v1h-1zM635 369h1v2h-1zM979 369h1v1h-1zM578 370h1v1h-1zM978 370h1v1h-1zM510 371h1v2h-1zM576 371h2v1h-2zM636 371h1v1h-1zM976 371h2v1h-2zM575 372h1v1h-1zM637 372h1v1h-1zM975 372h1v1h-1zM511 373h1v2h-1zM574 373h1v1h-1zM638 373h1v1h-1zM974 373h1v1h-1zM573 374h1v1h-1zM639 374h1v1h-1zM973 374h1v1h-1zM512 375h1v1h-1zM572 375h1v1h-1zM640 375h1v2h-1zM972 375h1v1h-1zM513 376h1v2h-1zM571 376h1v1h-1zM971 376h1v1h-1zM570 377h1v1h-1zM641 377h1v1h-1zM970 377h1v2h-1zM514 378h1v2h-1zM569 378h1v1h-1zM642 378h1v1h-1zM568 379h1v1h-1zM643 379h1v1h-1zM969 379h1v1h-1zM515 380h1v2h-1zM567 380h1v1h-1zM644 380h1v1h-1zM968 380h1v1h-1zM566 381h1v1h-1zM645 381h1v2h-1zM967 381h1v1h-1zM516 382h1v1h-1zM565 382h1v1h-1zM966 382h1v2h-1zM517 383h2v1h-2zM564 383h1v1h-1zM646 383h1v2h-1zM519 384h2v1h-2zM562 384h2v1h-2zM965 384h1v1h-1zM521 385h2v1h-2zM561 385h1v1h-1zM647 385h1v1h-1zM964 385h1v1h-1zM523 386h3v1h-3zM560 386h1v1h-1zM648 386h1v2h-1zM963 386h1v1h-1zM526 387h4v1h-4zM558 387h2v1h-2zM962 387h1v1h-1zM530 388h3v1h-3zM557 388h1v1h-1zM649 388h1v1h-1zM961 388h1v1h-1zM533 389h2v1h-2zM555 389h2v1h-2zM650 389h1v2h-1zM960 389h1v2h-1zM535 390h2v1h-2zM553 390h2v1h-2zM537 391h2v1h-2zM551 391h2v1h-2zM651 391h1v2h-1zM959 391h1v1h-1zM539 392h5v1h-5zM549 392h2v1h-2zM958 392h1v1h-1zM544 393h5v1h-5zM652 393h1v1h-1zM957 393h1v1h-1zM653 394h1v1h-1zM956 394h1v1h-1zM654 395h2v1h-2zM955 395h1v2h-1zM656 396h1v1h-1zM657 397h1v1h-1zM954 397h1v1h-1zM658 398h2v1h-2zM953 398h1v1h-1zM660 399h1v1h-1zM952 399h1v2h-1zM661 400h1v1h-1zM662 401h1v1h-1zM951 401h1v1h-1zM663 402h1v1h-1zM950 402h1v1h-1zM664 403h2v1h-2zM949 403h1v2h-1zM666 404h1v1h-1zM667 405h1v1h-1zM948 405h1v1h-1zM668 406h1v1h-1zM947 406h1v1h-1zM669 407h1v1h-1zM946 407h1v2h-1zM670 408h1v2h-1zM945 409h1v1h-1zM671 410h1v1h-1zM944 410h1v1h-1zM672 411h1v1h-1zM943 411h1v1h-1zM673 412h1v1h-1zM942 412h1v2h-1zM674 413h1v2h-1zM941 414h1v1h-1zM675 415h1v1h-1zM940 415h1v1h-1zM676 416h1v1h-1zM939 416h1v2h-1zM677 417h1v2h-1zM938 418h1v1h-1zM678 419h1v1h-1zM937 419h1v2h-1zM679 420h1v1h-1zM680 421h1v2h-1zM936 421h1v1h-1zM935 422h1v2h-1zM681 423h1v1h-1zM682 424h1v1h-1zM934 424h1v1h-1zM683 425h1v2h-1zM933 425h1v2h-1zM684 427h1v1h-1zM932 427h1v1h-1zM685 428h1v1h-1zM768 428h5v1h-5zM931 428h1v2h-1zM686 429h1v1h-1zM764 429h4v1h-4zM773 429h2v1h-2zM687 430h1v1h-1zM762 430h2v1h-2zM775 430h2v1h-2zM930 430h1v2h-1zM688 431h1v2h-1zM760 431h2v1h-2zM777 431h2v1h-2zM759 432h1v1h-1zM779 432h2v1h-2zM929 432h1v2h-1zM689 433h1v1h-1zM757 433h2v1h-2zM781 433h2v1h-2zM690 434h1v1h-1zM756 434h1v1h-1zM783 434h2v1h-2zM928 434h1v1h-1zM691 435h1v1h-1zM755 435h1v1h-1zM785 435h2v1h-2zM927 435h1v2h-1zM692 436h1v1h-1zM754 436h1v1h-1zM787 436h5v1h-5zM693 437h1v1h-1zM753 437h1v1h-1zM792 437h6v1h-6zM926 437h1v2h-1zM694 438h1v1h-1zM752 438h1v1h-1zM798 438h4v1h-4zM695 439h1v1h-1zM751 439h1v1h-1zM802 439h4v1h-4zM925 439h1v2h-1zM696 440h1v1h-1zM750 440h1v1h-1zM806 440h4v1h-4zM697 441h1v1h-1zM749 441h1v1h-1zM810 441h3v1h-3zM924 441h1v1h-1zM698 442h1v1h-1zM748 442h1v1h-1zM813 442h2v1h-2zM923 442h1v1h-1zM699 443h1v1h-1zM747 443h1v1h-1zM815 443h2v1h-2zM922 443h1v1h-1zM700 444h2v1h-2zM746 444h1v1h-1zM817 444h2v1h-2zM921 444h1v1h-1zM702 445h3v1h-3zM745 445h1v1h-1zM819 445h27v1h-27zM920 445h1v2h-1zM705 446h2v1h-2zM744 446h1v1h-1zM846 446h4v1h-4zM707 447h2v1h-2zM743 447h1v1h-1zM850 447h3v1h-3zM919 447h1v1h-1zM709 448h2v1h-2zM742 448h1v1h-1zM853 448h1v1h-1zM918 448h1v1h-1zM711 449h2v1h-2zM741 449h1v1h-1zM854 449h1v1h-1zM917 449h1v1h-1zM713 450h2v1h-2zM740 450h1v1h-1zM855 450h1v1h-1zM916 450h1v1h-1zM715 451h2v1h-2zM739 451h1v1h-1zM856 451h1v1h-1zM915 451h1v1h-1zM717 452h1v1h-1zM738 452h1v1h-1zM857 452h1v1h-1zM914 452h1v1h-1zM718 453h2v1h-2zM736 453h2v1h-2zM858 453h1v1h-1zM912 453h2v1h-2zM720 454h1v1h-1zM735 454h1v1h-1zM859 454h1v1h-1zM911 454h1v1h-1zM721 455h1v1h-1zM734 455h1v1h-1zM860 455h1v1h-1zM910 455h1v1h-1zM722 456h2v1h-2zM733 456h1v1h-1zM861 456h1v1h-1zM909 456h1v1h-1zM724 457h9v1h-9zM862 457h1v1h-1zM908 457h1v1h-1zM863 458h1v1h-1zM907 458h1v1h-1zM864 459h1v2h-1zM906 459h1v2h-1zM865 461h1v1h-1zM905 461h1v1h-1zM866 462h1v1h-1zM904 462h1v1h-1zM867 463h1v1h-1zM903 463h1v1h-1zM868 464h1v1h-1zM902 464h1v2h-1zM869 465h2v1h-2zM871 466h1v1h-1zM901 466h1v1h-1zM872 467h2v1h-2zM900 467h1v1h-1zM874 468h2v1h-2zM898 468h2v1h-2zM876 469h2v1h-2zM896 469h2v1h-2zM878 470h3v1h-3zM895 470h1v1h-1zM881 471h6v1h-6zM893 471h2v1h-2zM887 472h6v1h-6z" fill="#ff0000"/>
<path d="M91 129h2v1h-2zM89 130h2v1h-2zM93 130h2v1h-2zM87 131h2v1h-2zM95 131h2v1h-2zM85 132h2v1h-2zM97 132h2v1h-2zM84 133h1v1h-1zM99 133h2v1h-2zM83 134h1v1h-1zM101 134h1v2h-1zM82 135h1v1h-1zM81 136h1v1h-1zM102 136h1v1h-1zM80 137h1v1h-1zM103 137h1v2h-1zM79 138h1v1h-1zM78 139h1v1h-1zM104 139h1v1h-1zM77 140h1v1h-1zM105 140h1v2h-1zM76 141h1v2h-1zM106 142h1v1h-1zM75 143h1v3h-1zM107 143h1v2h-1zM108 145h1v2h-1zM74 146h1v3h-1zM109 147h1v3h-1zM73 149h1v3h-1zM110 150h1v3h-1zM72 152h1v3h-1zM111 153h1v3h-1zM71 155h1v3h-1zM112 156h1v4h-1zM70 158h1v3h-1zM113 160h1v3h-1zM69 161h1v3h-1zM114 163h1v3h-1zM68 164h1v2h-1zM67 166h1v2h-1zM115 166h1v3h-1zM66 168h1v1h-1zM65 169h1v1h-1zM116 169h1v3h-1zM64 170h1v2h-1zM63 172h1v1h-1zM117 172h1v3h-1zM62 173h1v1h-1zM61 174h1v2h-1zM118 175h1v3h-1zM60 176h1v2h-1zM59 178h1v2h-1zM119 178h1v3h-1zM58 180h1v3h-1zM120 181h1v2h-1zM57 183h1v3h-1zM121 183h1v3h-1zM56 186h1v2h-1zM122 186h1v3h-1zM55 188h1v3h-1zM123 189h1v3h-1zM54 191h1v3h-1zM124 192h1v3h-1zM53 194h1v2h-1zM125 195h1v3h-1zM52 196h1v2h-1zM51 198h1v2h-1zM126 198h1v2h-1zM50 200h1v1h-1zM127 200h1v3h-1zM49 201h1v1h-1zM48 202h1v2h-1zM128 203h1v3h-1zM47 204h1v1h-1zM46 205h1v1h-1zM45 206h1v2h-1zM129 206h1v3h-1zM44 208h1v1h-1zM43 209h1v2h-1zM130 209h1v2h-1zM42 211h1v1h-1zM131 211h1v3h-1zM41 212h1v1h-1zM4 213h2v1h-2zM40 213h1v2h-1zM6 214h2v1h-2zM132 214h1v4h-1zM8 215h2v1h-2zM39 215h1v1h-1zM10 216h2v1h-2zM38 216h1v1h-1zM12 217h1v2h-1zM37 217h1v2h-1zM133 218h1v4h-1zM1076 218h4v1h-4zM13 219h1v2h-1zM36 219h1v1h-1zM1075 219h1v2h-1zM1080 219h5v1h-5zM35 220h1v1h-1zM1085 220h1v2h-1zM14 221h1v2h-1zM34 221h1v1h-1zM1074 221h1v2h-1zM33 222h1v1h-1zM134 222h1v4h-1zM1086 222h1v2h-1zM15 223h1v2h-1zM32 223h1v1h-1zM1073 223h1v2h-1zM31 224h1v1h-1zM1087 224h1v2h-1zM16 225h1v2h-1zM30 225h1v1h-1zM1072 225h1v1h-1zM29 226h1v1h-1zM135 226h1v4h-1zM1071 226h1v2h-1zM1088 226h1v2h-1zM17 227h1v2h-1zM28 227h1v1h-1zM26 228h2v1h-2zM276 228h4v1h-4zM1070 228h1v2h-1zM1089 228h1v2h-1zM18 229h1v2h-1zM25 229h1v1h-1zM274 229h2v1h-2zM280 229h5v1h-5zM24 230h1v1h-1zM136 230h1v4h-1zM273 230h1v1h-1zM285 230h1v1h-1zM1069 230h1v2h-1zM1090 230h1v2h-1zM19 231h1v2h-1zM22 231h2v1h-2zM272 231h1v1h-1zM286 231h1v2h-1zM21 232h1v1h-1zM270 232h2v1h-2zM1068 232h1v2h-1zM1091 232h1v2h-1zM20 233h1v1h-1zM269 233h1v1h-1zM287 233h1v1h-1zM137 234h1v4h-1zM267 234h2v1h-2zM288 234h1v1h-1zM1067 234h1v3h-1zM1092 234h1v2h-1zM265 235h2v1h-2zM289 235h1v1h-1zM263 236h2v1h-2zM290 236h1v2h-1zM1093 236h1v2h-1zM261 237h2v1h-2zM1066 237h1v2h-1zM138 238h1v4h-1zM259 238h2v1h-2zM291 238h1v1h-1zM1094 238h1v2h-1zM257 239h2v1h-2zM292 239h1v1h-1zM1065 239h1v3h-1zM255 240h2v1h-2zM293 240h1v2h-1zM1095 240h1v2h-1zM253 241h2v1h-2zM139 242h1v4h-1zM252 242h1v1h-1zM294 242h1v2h-1zM1064 242h1v3h-1zM1096 242h1v3h-1zM251 243h1v1h-1zM250 244h1v1h-1zM295 244h1v1h-1zM248 245h2v1h-2zM296 245h1v2h-1zM1063 245h1v3h-1zM1097 245h1v2h-1zM140 246h1v4h-1zM247 246h1v1h-1zM246 247h1v1h-1zM297 247h1v1h-1zM1098 247h1v2h-1zM245 248h1v1h-1zM298 248h1v2h-1zM1062 248h1v2h-1zM244 249h1v1h-1zM1099 249h1v2h-1zM141 250h1v2h-1zM243 250h1v2h-1zM299 250h1v2h-1zM1061 250h1v3h-1zM1100 251h1v2h-1zM142 252h1v2h-1zM242 252h1v2h-1zM300 252h1v3h-1zM1060 253h1v4h-1zM1101 253h1v2h-1zM143 254h1v2h-1zM241 254h1v2h-1zM404 254h2v1h-2zM301 255h1v4h-1zM403 255h1v1h-1zM406 255h4v1h-4zM1102 255h1v2h-1zM144 256h1v2h-1zM240 256h1v1h-1zM402 256h1v1h-1zM410 256h3v1h-3zM239 257h1v2h-1zM401 257h1v1h-1zM413 257h2v1h-2zM1059 257h1v4h-1zM1103 257h1v2h-1zM145 258h1v2h-1zM400 258h1v1h-1zM415 258h2v1h-2zM238 259h1v2h-1zM302 259h1v5h-1zM399 259h1v1h-1zM417 259h2v1h-2zM1104 259h1v2h-1zM146 260h1v2h-1zM398 260h1v1h-1zM419 260h5v1h-5zM237 261h1v2h-1zM397 261h1v1h-1zM424 261h5v1h-5zM1058 261h1v4h-1zM1105 261h1v2h-1zM147 262h1v2h-1zM396 262h1v2h-1zM429 262h1v2h-1zM236 263h1v1h-1zM1106 263h1v2h-1zM148 264h1v3h-1zM235 264h1v2h-1zM303 264h1v5h-1zM395 264h1v3h-1zM430 264h1v1h-1zM431 265h1v2h-1zM1057 265h1v3h-1zM1107 265h1v2h-1zM234 266h1v1h-1zM149 267h1v3h-1zM233 267h1v2h-1zM394 267h1v3h-1zM432 267h1v1h-1zM1108 267h1v3h-1zM433 268h1v2h-1zM1056 268h1v4h-1zM232 269h1v1h-1zM304 269h1v4h-1zM150 270h1v3h-1zM231 270h1v2h-1zM393 270h1v3h-1zM434 270h1v1h-1zM1109 270h1v2h-1zM435 271h1v2h-1zM230 272h1v1h-1zM1055 272h1v4h-1zM1110 272h1v2h-1zM151 273h1v3h-1zM229 273h1v2h-1zM305 273h1v5h-1zM392 273h1v2h-1zM436 273h1v1h-1zM437 274h1v2h-1zM1111 274h1v2h-1zM228 275h1v1h-1zM391 275h1v3h-1zM152 276h1v4h-1zM227 276h1v1h-1zM438 276h1v2h-1zM1054 276h1v3h-1zM1112 276h1v3h-1zM226 277h1v1h-1zM225 278h1v1h-1zM306 278h1v5h-1zM390 278h1v3h-1zM439 278h1v2h-1zM224 279h1v1h-1zM1053 279h1v4h-1zM1113 279h1v2h-1zM153 280h1v3h-1zM223 280h1v1h-1zM440 280h1v2h-1zM222 281h1v1h-1zM389 281h1v3h-1zM1114 281h1v2h-1zM221 282h1v1h-1zM441 282h1v2h-1zM154 283h1v3h-1zM220 283h1v1h-1zM307 283h1v4h-1zM1052 283h1v3h-1zM1115 283h1v2h-1zM219 284h1v1h-1zM388 284h1v3h-1zM442 284h1v2h-1zM218 285h1v1h-1zM155 286h1v3h-1zM217 286h1v1h-1zM443 286h1v2h-1zM1051 286h1v3h-1zM216 287h1v2h-1zM308 287h1v4h-1zM387 287h1v2h-1zM444 288h1v4h-1zM156 289h1v2h-1zM215 289h1v1h-1zM386 289h1v2h-1zM1050 289h1v3h-1zM214 290h1v1h-1zM157 291h1v2h-1zM213 291h1v1h-1zM309 291h1v3h-1zM385 291h1v2h-1zM212 292h1v1h-1zM445 292h1v4h-1zM1049 292h1v3h-1zM158 293h1v2h-1zM211 293h1v2h-1zM384 293h1v3h-1zM310 294h1v2h-1zM159 295h1v1h-1zM210 295h1v2h-1zM1048 295h1v2h-1zM160 296h1v2h-1zM311 296h1v3h-1zM383 296h1v2h-1zM446 296h1v5h-1zM209 297h1v1h-1zM1047 297h1v3h-1zM161 298h1v1h-1zM208 298h1v2h-1zM382 298h1v2h-1zM162 299h1v2h-1zM312 299h1v3h-1zM207 300h1v1h-1zM381 300h1v2h-1zM1046 300h1v3h-1zM163 301h1v2h-1zM206 301h1v2h-1zM447 301h1v4h-1zM313 302h1v3h-1zM380 302h1v3h-1zM164 303h1v1h-1zM205 303h1v2h-1zM1045 303h1v3h-1zM165 304h1v1h-1zM972 304h1v1h-1zM166 305h1v1h-1zM202 305h3v1h-3zM314 305h1v2h-1zM379 305h1v2h-1zM448 305h1v5h-1zM971 305h1v1h-1zM973 305h1v2h-1zM167 306h1v1h-1zM198 306h4v1h-4zM970 306h1v1h-1zM1044 306h1v4h-1zM168 307h1v1h-1zM196 307h2v1h-2zM315 307h1v3h-1zM378 307h1v2h-1zM969 307h1v1h-1zM974 307h1v1h-1zM169 308h1v1h-1zM195 308h1v2h-1zM968 308h1v2h-1zM975 308h1v2h-1zM170 309h1v1h-1zM377 309h1v2h-1zM171 310h1v1h-1zM194 310h1v1h-1zM316 310h1v3h-1zM449 310h1v4h-1zM967 310h1v1h-1zM976 310h1v1h-1zM1043 310h1v4h-1zM172 311h1v1h-1zM193 311h1v1h-1zM376 311h1v2h-1zM966 311h1v1h-1zM977 311h1v2h-1zM173 312h2v1h-2zM192 312h1v2h-1zM965 312h1v1h-1zM175 313h2v1h-2zM317 313h1v2h-1zM375 313h1v2h-1zM964 313h1v1h-1zM978 313h1v1h-1zM177 314h2v1h-2zM191 314h1v1h-1zM450 314h1v5h-1zM962 314h2v1h-2zM979 314h1v2h-1zM1042 314h1v4h-1zM179 315h3v1h-3zM190 315h1v1h-1zM318 315h1v2h-1zM374 315h1v2h-1zM961 315h1v1h-1zM182 316h2v1h-2zM189 316h1v2h-1zM960 316h1v1h-1zM980 316h1v2h-1zM184 317h3v1h-3zM319 317h1v2h-1zM373 317h1v2h-1zM958 317h2v1h-2zM187 318h2v1h-2zM957 318h1v1h-1zM981 318h1v2h-1zM1041 318h1v4h-1zM320 319h1v2h-1zM372 319h1v2h-1zM451 319h1v4h-1zM956 319h1v2h-1zM982 320h1v3h-1zM321 321h1v2h-1zM371 321h1v2h-1zM955 321h1v2h-1zM1040 322h1v4h-1zM322 323h1v2h-1zM370 323h1v2h-1zM452 323h1v4h-1zM954 323h1v2h-1zM983 323h1v3h-1zM323 325h1v2h-1zM369 325h1v2h-1zM953 325h1v2h-1zM984 326h1v2h-1zM1039 326h1v4h-1zM324 327h1v3h-1zM368 327h1v2h-1zM453 327h1v4h-1zM588 327h1v1h-1zM952 327h1v2h-1zM586 328h2v1h-2zM589 328h1v1h-1zM985 328h1v3h-1zM367 329h1v2h-1zM584 329h2v1h-2zM590 329h1v1h-1zM951 329h1v2h-1zM325 330h1v2h-1zM583 330h1v1h-1zM591 330h1v1h-1zM1038 330h1v4h-1zM366 331h1v2h-1zM454 331h1v3h-1zM581 331h2v1h-2zM592 331h1v1h-1zM950 331h1v2h-1zM986 331h1v3h-1zM326 332h1v2h-1zM580 332h1v1h-1zM593 332h1v1h-1zM365 333h1v2h-1zM578 333h2v1h-2zM594 333h1v1h-1zM949 333h1v2h-1zM327 334h1v2h-1zM455 334h1v3h-1zM576 334h2v1h-2zM595 334h1v1h-1zM987 334h1v2h-1zM1037 334h1v4h-1zM364 335h1v2h-1zM575 335h1v1h-1zM596 335h2v1h-2zM948 335h1v2h-1zM328 336h1v3h-1zM573 336h2v1h-2zM598 336h2v1h-2zM988 336h1v2h-1zM363 337h1v2h-1zM456 337h1v4h-1zM572 337h1v1h-1zM600 337h3v1h-3zM947 337h1v3h-1zM571 338h1v2h-1zM603 338h2v1h-2zM989 338h1v2h-1zM1036 338h1v4h-1zM329 339h1v2h-1zM362 339h1v3h-1zM605 339h1v1h-1zM570 340h1v2h-1zM606 340h1v1h-1zM946 340h1v3h-1zM990 340h1v2h-1zM330 341h1v2h-1zM457 341h1v3h-1zM607 341h1v1h-1zM361 342h1v3h-1zM569 342h1v2h-1zM608 342h2v1h-2zM991 342h1v2h-1zM1035 342h1v4h-1zM331 343h1v2h-1zM610 343h1v1h-1zM945 343h1v3h-1zM458 344h1v3h-1zM568 344h1v2h-1zM611 344h1v1h-1zM992 344h1v2h-1zM332 345h1v2h-1zM360 345h1v2h-1zM612 345h1v1h-1zM567 346h1v2h-1zM613 346h1v2h-1zM944 346h1v4h-1zM993 346h1v2h-1zM1034 346h1v4h-1zM333 347h1v2h-1zM359 347h1v3h-1zM459 347h1v4h-1zM566 348h1v2h-1zM614 348h1v2h-1zM994 348h1v2h-1zM334 349h1v2h-1zM358 350h1v3h-1zM565 350h1v2h-1zM615 350h1v2h-1zM943 350h1v3h-1zM995 350h1v2h-1zM1033 350h1v5h-1zM335 351h1v1h-1zM460 351h1v2h-1zM336 352h1v2h-1zM564 352h1v1h-1zM616 352h1v1h-1zM996 352h1v3h-1zM357 353h1v2h-1zM461 353h1v2h-1zM563 353h1v2h-1zM617 353h1v2h-1zM942 353h1v3h-1zM337 354h1v1h-1zM338 355h1v2h-1zM347 355h5v1h-5zM356 355h1v2h-1zM462 355h1v2h-1zM562 355h1v2h-1zM618 355h1v2h-1zM997 355h1v2h-1zM1032 355h1v4h-1zM345 356h2v1h-2zM352 356h4v1h-4zM941 356h1v3h-1zM339 357h1v2h-1zM343 357h2v1h-2zM463 357h1v2h-1zM561 357h1v2h-1zM619 357h1v2h-1zM998 357h1v3h-1zM341 358h2v1h-2zM340 359h1v1h-1zM464 359h1v2h-1zM560 359h1v2h-1zM620 359h1v2h-1zM940 359h1v3h-1zM1031 359h1v5h-1zM999 360h1v2h-1zM465 361h1v2h-1zM559 361h1v2h-1zM621 361h1v3h-1zM939 362h1v3h-1zM1000 362h1v3h-1zM466 363h1v2h-1zM558 363h1v2h-1zM622 364h1v3h-1zM1030 364h1v4h-1zM467 365h1v2h-1zM557 365h1v2h-1zM938 365h1v3h-1zM1001 365h1v2h-1zM468 367h1v2h-1zM556 367h1v1h-1zM623 367h1v3h-1zM1002 367h1v3h-1zM555 368h1v2h-1zM937 368h1v3h-1zM1029 368h1v4h-1zM469 369h1v2h-1zM554 370h1v2h-1zM624 370h1v4h-1zM1003 370h1v2h-1zM470 371h1v2h-1zM936 371h1v4h-1zM553 372h1v1h-1zM1004 372h1v3h-1zM1028 372h1v4h-1zM471 373h1v2h-1zM552 373h1v2h-1zM625 374h1v3h-1zM472 375h1v1h-1zM551 375h1v1h-1zM935 375h1v3h-1zM1005 375h1v2h-1zM473 376h1v2h-1zM550 376h1v2h-1zM1027 376h1v2h-1zM626 377h1v3h-1zM1006 377h1v2h-1zM474 378h1v2h-1zM549 378h1v2h-1zM934 378h1v3h-1zM1026 378h1v2h-1zM1007 379h1v3h-1zM475 380h1v2h-1zM547 380h2v1h-2zM627 380h1v3h-1zM1025 380h1v2h-1zM544 381h3v1h-3zM933 381h1v3h-1zM476 382h1v2h-1zM542 382h2v1h-2zM1008 382h1v2h-1zM1024 382h1v2h-1zM540 383h2v1h-2zM628 383h1v3h-1zM477 384h1v2h-1zM539 384h1v2h-1zM932 384h1v4h-1zM1009 384h1v3h-1zM1023 384h1v2h-1zM478 386h1v2h-1zM538 386h1v1h-1zM629 386h1v3h-1zM1022 386h1v2h-1zM537 387h1v2h-1zM1010 387h1v2h-1zM479 388h1v2h-1zM931 388h1v4h-1zM1021 388h1v2h-1zM536 389h1v1h-1zM630 389h1v4h-1zM1011 389h1v2h-1zM480 390h1v3h-1zM535 390h1v2h-1zM1020 390h1v2h-1zM1012 391h1v2h-1zM1016 391h4v1h-4zM534 392h1v1h-1zM930 392h1v4h-1zM1013 392h3v1h-3zM481 393h1v2h-1zM533 393h1v2h-1zM631 393h1v3h-1zM482 395h1v2h-1zM532 395h1v1h-1zM531 396h1v2h-1zM632 396h1v3h-1zM929 396h1v4h-1zM483 397h1v2h-1zM530 398h1v1h-1zM484 399h1v2h-1zM529 399h1v2h-1zM633 399h1v3h-1zM928 400h1v5h-1zM485 401h1v1h-1zM528 401h1v1h-1zM486 402h2v1h-2zM527 402h1v2h-1zM634 402h1v4h-1zM488 403h1v1h-1zM489 404h1v1h-1zM526 404h1v1h-1zM490 405h2v1h-2zM525 405h1v2h-1zM927 405h1v4h-1zM492 406h1v1h-1zM635 406h1v3h-1zM493 407h2v1h-2zM524 407h1v1h-1zM495 408h2v1h-2zM522 408h2v1h-2zM497 409h2v1h-2zM520 409h2v1h-2zM636 409h1v3h-1zM926 409h1v5h-1zM499 410h3v1h-3zM519 410h1v1h-1zM502 411h2v1h-2zM517 411h2v1h-2zM504 412h3v1h-3zM512 412h5v1h-5zM637 412h1v3h-1zM507 413h5v1h-5zM771 414h3v1h-3zM925 414h1v4h-1zM638 415h1v3h-1zM768 415h3v1h-3zM774 415h2v1h-2zM766 416h2v1h-2zM776 416h3v1h-3zM756 417h10v1h-10zM779 417h2v1h-2zM639 418h1v3h-1zM755 418h1v1h-1zM781 418h1v2h-1zM924 418h1v4h-1zM754 419h1v1h-1zM753 420h1v1h-1zM782 420h1v1h-1zM640 421h1v3h-1zM752 421h1v1h-1zM783 421h1v1h-1zM751 422h1v1h-1zM784 422h1v2h-1zM923 422h1v4h-1zM750 423h1v1h-1zM641 424h1v3h-1zM749 424h1v1h-1zM785 424h1v1h-1zM748 425h1v1h-1zM786 425h1v1h-1zM747 426h1v1h-1zM787 426h1v2h-1zM922 426h1v3h-1zM642 427h1v3h-1zM746 427h1v1h-1zM745 428h1v1h-1zM788 428h1v1h-1zM744 429h1v1h-1zM789 429h1v2h-1zM921 429h1v4h-1zM643 430h1v3h-1zM743 430h1v1h-1zM742 431h1v1h-1zM790 431h1v1h-1zM741 432h1v1h-1zM791 432h1v2h-1zM644 433h1v2h-1zM740 433h1v1h-1zM920 433h1v3h-1zM739 434h1v1h-1zM792 434h1v1h-1zM645 435h1v2h-1zM738 435h1v1h-1zM793 435h1v2h-1zM737 436h1v1h-1zM919 436h1v3h-1zM646 437h1v2h-1zM736 437h1v2h-1zM794 437h1v1h-1zM795 438h1v2h-1zM647 439h1v2h-1zM735 439h1v1h-1zM918 439h1v3h-1zM734 440h1v1h-1zM796 440h1v1h-1zM648 441h1v1h-1zM733 441h1v1h-1zM797 441h1v2h-1zM649 442h1v2h-1zM731 442h2v1h-2zM917 442h1v3h-1zM712 443h6v1h-6zM729 443h2v1h-2zM798 443h1v1h-1zM650 444h1v2h-1zM708 444h4v1h-4zM718 444h2v1h-2zM727 444h2v1h-2zM799 444h1v2h-1zM707 445h1v1h-1zM720 445h3v1h-3zM725 445h2v1h-2zM916 445h1v2h-1zM651 446h1v2h-1zM706 446h1v1h-1zM723 446h2v1h-2zM800 446h1v1h-1zM705 447h1v1h-1zM801 447h1v2h-1zM915 447h1v1h-1zM652 448h1v1h-1zM704 448h1v2h-1zM914 448h1v2h-1zM653 449h1v2h-1zM802 449h1v1h-1zM703 450h1v1h-1zM803 450h1v2h-1zM913 450h1v1h-1zM654 451h1v1h-1zM702 451h1v1h-1zM912 451h1v1h-1zM655 452h1v2h-1zM701 452h1v1h-1zM804 452h1v1h-1zM911 452h1v1h-1zM700 453h1v1h-1zM805 453h1v2h-1zM910 453h1v2h-1zM656 454h1v1h-1zM698 454h2v1h-2zM657 455h1v2h-1zM696 455h2v1h-2zM806 455h1v1h-1zM909 455h1v1h-1zM695 456h1v1h-1zM807 456h1v2h-1zM856 456h5v1h-5zM908 456h1v1h-1zM658 457h1v1h-1zM693 457h2v1h-2zM851 457h5v1h-5zM861 457h1v1h-1zM907 457h1v1h-1zM659 458h1v2h-1zM692 458h1v1h-1zM808 458h1v1h-1zM849 458h2v1h-2zM862 458h2v1h-2zM906 458h1v2h-1zM691 459h1v1h-1zM809 459h1v2h-1zM847 459h2v1h-2zM864 459h1v1h-1zM660 460h1v1h-1zM690 460h1v2h-1zM845 460h2v1h-2zM865 460h1v1h-1zM905 460h1v1h-1zM661 461h1v1h-1zM810 461h1v1h-1zM844 461h1v1h-1zM866 461h2v1h-2zM904 461h1v1h-1zM662 462h1v1h-1zM689 462h1v1h-1zM811 462h1v2h-1zM843 462h1v1h-1zM868 462h1v1h-1zM903 462h1v1h-1zM663 463h1v1h-1zM688 463h1v1h-1zM842 463h1v1h-1zM869 463h2v1h-2zM902 463h1v2h-1zM664 464h1v1h-1zM687 464h1v1h-1zM812 464h1v1h-1zM841 464h1v1h-1zM871 464h2v1h-2zM665 465h1v1h-1zM686 465h1v2h-1zM813 465h1v1h-1zM840 465h1v1h-1zM873 465h2v1h-2zM901 465h1v1h-1zM666 466h1v1h-1zM814 466h1v1h-1zM839 466h1v1h-1zM875 466h3v1h-3zM900 466h1v1h-1zM667 467h1v1h-1zM685 467h1v1h-1zM815 467h1v1h-1zM838 467h1v1h-1zM878 467h4v1h-4zM899 467h1v1h-1zM668 468h1v1h-1zM683 468h2v1h-2zM816 468h1v1h-1zM837 468h1v1h-1zM882 468h3v1h-3zM898 468h1v1h-1zM669 469h2v1h-2zM681 469h2v1h-2zM817 469h1v1h-1zM836 469h1v1h-1zM885 469h1v1h-1zM897 469h1v1h-1zM671 470h2v1h-2zM679 470h2v1h-2zM818 470h1v1h-1zM835 470h1v1h-1zM886 470h2v1h-2zM896 470h1v1h-1zM673 471h2v1h-2zM677 471h2v1h-2zM819 471h1v1h-1zM834 471h1v1h-1zM888 471h1v1h-1zM895 471h1v1h-1zM675 472h2v1h-2zM820 472h1v1h-1zM832 472h2v1h-2zM889 472h1v1h-1zM894 472h1v1h-1zM821 473h2v1h-2zM831 473h1v1h-1zM890 473h2v1h-2zM893 473h1v1h-1zM823 474h2v1h-2zM830 474h1v1h-1zM892 474h1v1h-1zM825 475h2v1h-2zM829 475h1v1h-1zM827 476h2v1h-2z" fill="#0000cd"/>
<rect x="910" y="160" width="272" height="5" fill="#f83a3a"/>
<rect x="908" y="288" width="277" height="5" fill="#99c800"/>
<rect x="908" y="398" width="279" height="5" fill="#3c96e6"/>
<polygon points="1130,24 1140,24 1135,29" fill="#c0c0c0"/>
<rect x="4" y="621" width="1" height="9" fill="#c0c0c0"/>
<rect x="12" y="621" width="1" height="9" fill="#c0c0c0"/>
<rect x="20" y="621" width="1" height="17" fill="#c0c0c0"/>
<rect x="28" y="621" width="1" height="13" fill="#c0c0c0"/>
<rect x="36" y="621" width="1" height="9" fill="#c0c0c0"/>
<rect x="44" y="621" width="1" height="6" fill="#c0c0c0"/>
<rect x="60" y="616" width="1" height="6" fill="#c0c0c0"/>
<rect x="68" y="613" width="1" height="9" fill="#c0c0c0"/>
<rect x="76" y="610" width="1" height="12" fill="#c0c0c0"/>
<rect x="84" y="608" width="1" height="14" fill="#c0c0c0"/>
<rect x="92" y="609" width="1" height="13" fill="#c0c0c0"/>
<rect x="100" y="611" width="1" height="11" fill="#c0c0c0"/>
<rect x="108" y="619" width="1" height="3" fill="#c0c0c0"/>
<rect x="116" y="621" width="1" height="4" fill="#c0c0c0"/>
<rect x="124" y="621" width="1" height="12" fill="#c0c0c0"/>
<rect x="132" y="621" width="1" height="18" fill="#c0c0c0"/>
<rect x="140" y="621" width="1" height="27" fill="#c0c0c0"/>
<rect x="148" y="621" width="1" height="28" fill="#c0c0c0"/>
<rect x="156" y="621" width="1" height="35" fill="#c0c0c0"/>
<rect x="164" y="621" width="1" height="38" fill="#c0c0c0"/>
<rect x="172" y="621" width="1" height="39" fill="#c0c0c0"/>
<rect x="180" y="621" width="1" height="41" fill="#c0c0c0"/>
<rect x="188" y="621" width="1" height="39" fill="#c0c0c0"/>
<rect x="196" y="621" width="1" height="35" fill="#c0c0c0"/>
<rect x="204" y="621" width="1" height="30" fill="#c0c0c0"/>
<rect x="212" y="621" width="1" height="27" fill="#c0c0c0"/>
<rect x="220" y="621" width="1" height="24" fill="#c0c0c0"/>
<rect x="228" y="621" width="1" height="21" fill="#c0c0c0"/>
<rect x="236" y="621" width="1" height="17" fill="#c0c0c0"/>
<rect x="244" y="621" width="1" height="9" fill="#c0c0c0"/>
<rect x="252" y="621" width="1" height="5" fill="#c0c0c0"/>
<rect x="260" y="621" width="1" height="4" fill="#c0c0c0"/>
<rect x="268" y="621" width="1" height="2" fill="#c0c0c0"/>
<rect x="284" y="621" width="1" height="2" fill="#c0c0c0"/>
<rect x="292" y="621" width="1" height="7" fill="#c0c0c0"/>
<rect x="300" y="621" width="1" height="9" fill="#c0c0c0"/>
<rect x="308" y="621" width="1" height="24" fill="#c0c0c0"/>
<rect x="316" y="621" width="1" height="30" fill="#c0c0c0"/>
<rect x="324" y="621" width="1" height="34" fill="#c0c0c0"/>
<rect x="332" y="621" width="1" height="35" fill="#c0c0c0"/>
<rect x="340" y="621" width="1" height="34" fill="#c0c0c0"/>
<rect x="348" y="621" width="1" height="27" fill="#c0c0c0"/>
<rect x="356" y="621" width="1" height="23" fill="#c0c0c0"/>
<rect x="364" y="621" width="1" height="19" fill="#c0c0c0"/>
<rect x="372" y="621" width="1" height="17" fill="#c0c0c0"/>
<rect x="380" y="621" width="1" height="11" fill="#c0c0c0"/>
<rect x="388" y="621" width="1" height="7" fill="#c0c0c0"/>
<rect x="396" y="616" width="1" height="6" fill="#c0c0c0"/>
<rect x="404" y="613" width="1" height="9" fill="#c0c0c0"/>
<rect x="412" y="619" width="1" height="3" fill="#c0c0c0"/>
<rect x="420" y="620" width="1" height="2" fill="#c0c0c0"/>
<rect x="428" y="621" width="1" height="2" fill="#c0c0c0"/>
<rect x="436" y="621" width="1" height="6" fill="#c0c0c0"/>
<rect x="444" y="621" width="1" height="11" fill="#c0c0c0"/>
<rect x="452" y="621" width="1" height="18" fill="#c0c0c0"/>
<rect x="460" y="621" width="1" height="26" fill="#c0c0c0"/>
<rect x="468" y="621" width="1" height="30" fill="#c0c0c0"/>
<rect x="476" y="621" width="1" height="34" fill="#c0c0c0"/>
<rect x="484" y="621" width="1" height="37" fill="#c0c0c0"/>
<rect x="492" y="621" width="1" height="35" fill="#c0c0c0"/>
<rect x="500" y="621" width="1" height="35" fill="#c0c0c0"/>
<rect x="508" y="621" width="1" height="35" fill="#c0c0c0"/>
<rect x="516" y="621" width="1" height="34" fill="#c0c0c0"/>
<rect x="524" y="621" width="1" height="32" fill="#c0c0c0"/>
<rect x="532" y="621" width="1" height="27" fill="#c0c0c0"/>
<rect x="540" y="621" width="1" height="22" fill="#c0c0c0"/>
<rect x="548" y="621" width="1" height="18" fill="#c0c0c0"/>
<rect x="556" y="621" width="1" height="13" fill="#c0c0c0"/>
<rect x="564" y="621" width="1" height="8" fill="#c0c0c0"/>
<rect x="572" y="621" width="1" height="4" fill="#c0c0c0"/>
<rect x="596" y="621" width="1" height="4" fill="#c0c0c0"/>
<rect x="604" y="621" width="1" height="5" fill="#c0c0c0"/>
<rect x="612" y="621" width="1" height="7" fill="#c0c0c0"/>
<rect x="620" y="621" width="1" height="9" fill="#c0c0c0"/>
<rect x="628" y="621" width="1" height="20" fill="#c0c0c0"/>
<rect x="636" y="621" width="1" height="28" fill="#c0c0c0"/>
<rect x="644" y="621" width="1" height="34" fill="#c0c0c0"/>
<rect x="652" y="621" width="1" height="38" fill="#c0c0c0"/>
<rect x="660" y="621" width="1" height="37" fill="#c0c0c0"/>
<rect x="668" y="621" width="1" height="32" fill="#c0c0c0"/>
<rect x="676" y="621" width="1" height="30" fill="#c0c0c0"/>
<rect x="684" y="621" width="1" height="29" fill="#c0c0c0"/>
<rect x="692" y="621" width="1" height="28" fill="#c0c0c0"/>
<rect x="700" y="621" width="1" height="27" fill="#c0c0c0"/>
<rect x="708" y="621" width="1" height="25" fill="#c0c0c0"/>
<rect x="716" y="621" width="1" height="24" fill="#c0c0c0"/>
<rect x="724" y="621" width="1" height="21" fill="#c0c0c0"/>
<rect x="732" y="621" width="1" height="18" fill="#c0c0c0"/>
<rect x="740" y="621" width="1" height="13" fill="#c0c0c0"/>
<rect x="748" y="621" width="1" height="9" fill="#c0c0c0"/>
<rect x="756" y="621" width="1" height="6" fill="#c0c0c0"/>
<rect x="764" y="621" width="1" height="6" fill="#c0c0c0"/>
<rect x="772" y="621" width="1" height="6" fill="#c0c0c0"/>
<rect x="780" y="621" width="1" height="9" fill="#c0c0c0"/>
<rect x="788" y="621" width="1" height="13" fill="#c0c0c0"/>
<rect x="796" y="621" width="1" height="15" fill="#c0c0c0"/>
<rect x="804" y="621" width="1" height="16" fill="#c0c0c0"/>
<rect x="812" y="621" width="1" height="17" fill="#c0c0c0"/>
<rect x="820" y="621" width="1" height="19" fill="#c0c0c0"/>
<rect x="828" y="621" width="1" height="17" fill="#c0c0c0"/>
<rect x="836" y="621" width="1" height="14" fill="#c0c0c0"/>
<rect x="844" y="621" width="1" height="10" fill="#c0c0c0"/>
<rect x="852" y="621" width="1" height="9" fill="#c0c0c0"/>
<rect x="860" y="621" width="1" height="10" fill="#c0c0c0"/>
<rect x="868" y="621" width="1" height="14" fill="#c0c0c0"/>
<rect x="876" y="621" width="1" height="18" fill="#c0c0c0"/>
<rect x="884" y="621" width="1" height="16" fill="#c0c0c0"/>
<rect x="892" y="621" width="1" height="14" fill="#c0c0c0"/>
<rect x="900" y="621" width="1" height="6" fill="#c0c0c0"/>
<rect x="916" y="618" width="1" height="4" fill="#c0c0c0"/>
<rect x="924" y="611" width="1" height="11" fill="#c0c0c0"/>
<rect x="932" y="599" width="1" height="23" fill="#c0c0c0"/>
<rect x="940" y="592" width="1" height="30" fill="#c0c0c0"/>
<rect x="948" y="586" width="1" height="36" fill="#c0c0c0"/>
<rect x="956" y="582" width="1" height="40" fill="#c0c0c0"/>
<rect x="964" y="582" width="1" height="40" fill="#c0c0c0"/>
<rect x="972" y="585" width="1" height="37" fill="#c0c0c0"/>
<rect x="980" y="594" width="1" height="28" fill="#c0c0c0"/>
<rect x="988" y="601" width="1" height="21" fill="#c0c0c0"/>
<rect x="996" y="605" width="1" height="17" fill="#c0c0c0"/>
<rect x="1004" y="611" width="1" height="11" fill="#c0c0c0"/>
<rect x="1012" y="613" width="1" height="9" fill="#c0c0c0"/>
<rect x="1020" y="608" width="1" height="14" fill="#c0c0c0"/>
<rect x="1028" y="598" width="1" height="24" fill="#c0c0c0"/>
<rect x="1036" y="587" width="1" height="35" fill="#c0c0c0"/>
<rect x="1044" y="579" width="1" height="43" fill="#c0c0c0"/>
<rect x="1052" y="576" width="1" height="46" fill="#c0c0c0"/>
<rect x="1060" y="573" width="1" height="49" fill="#c0c0c0"/>
<rect x="1068" y="571" width="1" height="51" fill="#c0c0c0"/>
<rect x="1076" y="571" width="1" height="51" fill="#c0c0c0"/>
<rect x="1084" y="573" width="1" height="49" fill="#c0c0c0"/>
<rect x="1092" y="582" width="1" height="40" fill="#c0c0c0"/>
<rect x="1100" y="589" width="1" height="33" fill="#c0c0c0"/>
<rect x="1108" y="595" width="1" height="27" fill="#c0c0c0"/>
<rect x="1116" y="600" width="1" height="22" fill="#c0c0c0"/>
<path d="M1096 577h3v1h-3zM1102 577h3v1h-3zM1108 577h2v1h-2zM1091 578h2v1h-2zM1110 578h1v1h-1zM1090 579h1v1h-1zM1114 579h1v1h-1zM1115 580h2v1h-2zM1085 581h2v1h-2zM1084 582h1v1h-1zM1079 584h2v1h-2zM1078 585h1v1h-1zM1073 587h2v1h-2zM1072 588h1v1h-1zM1067 590h2v1h-2zM994 591h3v1h-3zM1066 591h1v1h-1zM984 592h1v1h-1zM988 592h3v1h-3zM1000 592h2v1h-2zM1062 592h1v1h-1zM982 593h2v1h-2zM1002 593h1v1h-1zM1006 593h2v1h-2zM1060 593h2v1h-2zM977 594h2v1h-2zM1008 594h1v1h-1zM1012 594h2v1h-2zM976 595h1v1h-1zM1014 595h1v1h-1zM1055 595h2v1h-2zM1018 596h1v1h-1zM1054 596h1v1h-1zM972 597h1v1h-1zM1019 597h2v1h-2zM1050 597h1v1h-1zM970 598h2v1h-2zM1024 598h2v1h-2zM1048 598h2v1h-2zM1026 599h1v1h-1zM1030 599h3v1h-3zM1036 599h3v1h-3zM1042 599h3v1h-3zM965 601h2v1h-2zM964 602h1v1h-1zM960 605h1v1h-1zM958 606h2v1h-2zM4 608h1v1h-1zM5 609h2v1h-2zM954 609h1v1h-1zM953 610h1v1h-1zM10 611h1v1h-1zM952 611h1v1h-1zM11 612h2v1h-2zM948 614h1v1h-1zM16 615h1v1h-1zM106 615h3v1h-3zM112 615h3v1h-3zM118 615h2v1h-2zM946 615h2v1h-2zM17 616h1v1h-1zM100 616h3v1h-3zM120 616h1v1h-1zM124 616h2v1h-2zM18 617h1v1h-1zM126 617h1v1h-1zM95 618h2v1h-2zM130 618h1v1h-1zM941 618h2v1h-2zM22 619h1v1h-1zM94 619h1v1h-1zM131 619h2v1h-2zM940 619h1v1h-1zM23 620h1v1h-1zM90 620h1v1h-1zM24 621h1v1h-1zM88 621h2v1h-2zM136 621h1v1h-1zM83 622h2v1h-2zM137 622h2v1h-2zM936 622h1v1h-1zM28 623h1v1h-1zM82 623h1v1h-1zM934 623h2v1h-2zM29 624h2v1h-2zM78 624h1v1h-1zM142 624h1v1h-1zM432 624h1v1h-1zM436 624h3v1h-3zM442 624h3v1h-3zM76 625h2v1h-2zM143 625h1v1h-1zM430 625h2v1h-2zM448 625h3v1h-3zM34 626h1v1h-1zM70 626h3v1h-3zM144 626h1v1h-1zM424 626h3v1h-3zM454 626h3v1h-3zM929 626h2v1h-2zM35 627h2v1h-2zM66 627h1v1h-1zM460 627h2v1h-2zM616 627h3v1h-3zM622 627h2v1h-2zM928 627h1v1h-1zM40 628h3v1h-3zM46 628h2v1h-2zM64 628h2v1h-2zM148 628h1v1h-1zM298 628h3v1h-3zM419 628h2v1h-2zM462 628h1v1h-1zM610 628h3v1h-3zM624 628h1v1h-1zM628 628h2v1h-2zM48 629h1v1h-1zM52 629h3v1h-3zM58 629h3v1h-3zM149 629h2v1h-2zM292 629h3v1h-3zM304 629h2v1h-2zM418 629h1v1h-1zM466 629h1v1h-1zM606 629h1v1h-1zM630 629h1v1h-1zM922 629h3v1h-3zM286 630h3v1h-3zM306 630h1v1h-1zM310 630h2v1h-2zM414 630h1v1h-1zM467 630h2v1h-2zM604 630h2v1h-2zM634 630h3v1h-3zM918 630h1v1h-1zM282 631h1v1h-1zM312 631h1v1h-1zM316 631h1v1h-1zM412 631h2v1h-2zM598 631h3v1h-3zM912 631h1v1h-1zM916 631h2v1h-2zM154 632h2v1h-2zM280 632h2v1h-2zM317 632h2v1h-2zM640 632h3v1h-3zM802 632h3v1h-3zM906 632h1v1h-1zM910 632h2v1h-2zM156 633h1v1h-1zM275 633h2v1h-2zM407 633h2v1h-2zM472 633h1v1h-1zM592 633h3v1h-3zM784 633h3v1h-3zM790 633h3v1h-3zM796 633h3v1h-3zM808 633h3v1h-3zM814 633h2v1h-2zM904 633h2v1h-2zM274 634h1v1h-1zM322 634h1v1h-1zM406 634h1v1h-1zM473 634h1v1h-1zM646 634h1v1h-1zM778 634h3v1h-3zM816 634h1v1h-1zM820 634h3v1h-3zM898 634h3v1h-3zM323 635h2v1h-2zM474 635h1v1h-1zM587 635h2v1h-2zM647 635h2v1h-2zM774 635h1v1h-1zM826 635h3v1h-3zM888 635h1v1h-1zM892 635h3v1h-3zM160 636h2v1h-2zM269 636h2v1h-2zM402 636h1v1h-1zM586 636h1v1h-1zM772 636h2v1h-2zM832 636h3v1h-3zM838 636h3v1h-3zM844 636h3v1h-3zM850 636h3v1h-3zM856 636h3v1h-3zM862 636h3v1h-3zM868 636h3v1h-3zM874 636h3v1h-3zM880 636h3v1h-3zM886 636h2v1h-2zM162 637h1v1h-1zM268 637h1v1h-1zM328 637h3v1h-3zM400 637h2v1h-2zM478 637h1v1h-1zM652 637h1v1h-1zM766 637h3v1h-3zM264 638h1v1h-1zM479 638h2v1h-2zM581 638h2v1h-2zM653 638h2v1h-2zM262 639h2v1h-2zM334 639h3v1h-3zM580 639h1v1h-1zM760 639h3v1h-3zM166 640h2v1h-2zM340 640h1v1h-1zM395 640h2v1h-2zM484 640h2v1h-2zM658 640h1v1h-1zM168 641h1v1h-1zM257 641h2v1h-2zM341 641h2v1h-2zM394 641h1v1h-1zM486 641h1v1h-1zM575 641h2v1h-2zM659 641h2v1h-2zM755 641h2v1h-2zM256 642h1v1h-1zM490 642h1v1h-1zM574 642h1v1h-1zM754 642h1v1h-1zM346 643h1v1h-1zM389 643h2v1h-2zM491 643h2v1h-2zM664 643h3v1h-3zM750 643h1v1h-1zM172 644h1v1h-1zM251 644h2v1h-2zM347 644h2v1h-2zM388 644h1v1h-1zM568 644h3v1h-3zM748 644h2v1h-2zM173 645h2v1h-2zM250 645h1v1h-1zM352 645h3v1h-3zM382 645h3v1h-3zM496 645h1v1h-1zM670 645h2v1h-2zM742 645h3v1h-3zM358 646h2v1h-2zM378 646h1v1h-1zM497 646h2v1h-2zM563 646h2v1h-2zM672 646h1v1h-1zM738 646h1v1h-1zM245 647h2v1h-2zM360 647h1v1h-1zM376 647h2v1h-2zM562 647h1v1h-1zM676 647h2v1h-2zM736 647h2v1h-2zM178 648h2v1h-2zM244 648h1v1h-1zM364 648h3v1h-3zM370 648h3v1h-3zM502 648h1v1h-1zM558 648h1v1h-1zM678 648h1v1h-1zM730 648h3v1h-3zM180 649h1v1h-1zM240 649h1v1h-1zM503 649h2v1h-2zM556 649h2v1h-2zM682 649h1v1h-1zM726 649h1v1h-1zM238 650h2v1h-2zM552 650h1v1h-1zM683 650h2v1h-2zM720 650h1v1h-1zM724 650h2v1h-2zM184 651h1v1h-1zM508 651h2v1h-2zM550 651h2v1h-2zM688 651h3v1h-3zM694 651h2v1h-2zM712 651h3v1h-3zM718 651h2v1h-2zM185 652h2v1h-2zM232 652h3v1h-3zM510 652h1v1h-1zM546 652h1v1h-1zM696 652h1v1h-1zM700 652h3v1h-3zM706 652h3v1h-3zM514 653h3v1h-3zM544 653h2v1h-2zM190 654h3v1h-3zM226 654h3v1h-3zM520 654h2v1h-2zM538 654h3v1h-3zM196 655h3v1h-3zM222 655h1v1h-1zM522 655h1v1h-1zM526 655h3v1h-3zM532 655h3v1h-3zM202 656h3v1h-3zM208 656h3v1h-3zM214 656h3v1h-3zM220 656h2v1h-2z" fill="#ff0000"/>
<line x1="4" y1="709.5" x2="1419" y2="709.5" stroke="#c0c0c0" stroke-width="1" stroke-dasharray="3 3"/>
<line x1="4" y1="760.5" x2="1419" y2="760.5" stroke="#c0c0c0" stroke-width="1" stroke-dasharray="3 3"/>
<path d="M932 710h1v1h-1zM931 711h1v1h-1zM933 711h2v1h-2zM930 712h1v1h-1zM935 712h1v1h-1zM1040 712h5v1h-5zM929 713h1v1h-1zM936 713h2v1h-2zM1034 713h6v1h-6zM1045 713h1v1h-1zM928 714h1v1h-1zM938 714h2v1h-2zM952 714h5v1h-5zM1030 714h4v1h-4zM1046 714h1v1h-1zM927 715h1v1h-1zM940 715h12v1h-12zM957 715h1v1h-1zM1028 715h2v1h-2zM1047 715h1v1h-1zM926 716h1v1h-1zM958 716h1v1h-1zM1027 716h1v1h-1zM1048 716h2v1h-2zM396 717h1v1h-1zM925 717h1v1h-1zM959 717h1v1h-1zM1026 717h1v1h-1zM1050 717h1v1h-1zM1072 717h5v1h-5zM395 718h1v2h-1zM397 718h1v1h-1zM924 718h1v1h-1zM960 718h1v2h-1zM1025 718h1v1h-1zM1051 718h1v1h-1zM1056 718h16v1h-16zM1077 718h2v1h-2zM398 719h1v2h-1zM923 719h1v1h-1zM1024 719h1v2h-1zM1052 719h4v1h-4zM1079 719h1v1h-1zM394 720h1v1h-1zM904 720h5v1h-5zM922 720h1v1h-1zM961 720h1v1h-1zM1080 720h2v1h-2zM393 721h1v1h-1zM399 721h1v1h-1zM900 721h4v1h-4zM909 721h1v1h-1zM921 721h1v1h-1zM962 721h1v1h-1zM1023 721h1v1h-1zM1082 721h2v1h-2zM392 722h1v2h-1zM400 722h1v1h-1zM900 722h1v1h-1zM910 722h1v1h-1zM920 722h1v2h-1zM963 722h1v1h-1zM1022 722h1v1h-1zM1084 722h1v1h-1zM60 723h1v1h-1zM401 723h1v1h-1zM899 723h1v2h-1zM911 723h1v1h-1zM964 723h2v1h-2zM1021 723h1v1h-1zM1085 723h1v2h-1zM59 724h1v1h-1zM61 724h1v1h-1zM391 724h1v1h-1zM402 724h1v2h-1zM912 724h2v1h-2zM919 724h1v1h-1zM966 724h2v1h-2zM1020 724h1v1h-1zM58 725h1v1h-1zM62 725h2v1h-2zM390 725h1v1h-1zM898 725h1v2h-1zM914 725h1v1h-1zM918 725h1v1h-1zM968 725h3v1h-3zM1019 725h1v1h-1zM1086 725h1v2h-1zM56 726h2v1h-2zM64 726h1v1h-1zM244 726h2v1h-2zM389 726h1v2h-1zM403 726h1v1h-1zM915 726h1v1h-1zM917 726h1v1h-1zM971 726h2v1h-2zM1018 726h1v2h-1zM55 727h1v1h-1zM65 727h1v1h-1zM242 727h2v1h-2zM246 727h2v1h-2zM404 727h1v1h-1zM562 727h11v1h-11zM897 727h1v2h-1zM916 727h1v1h-1zM973 727h1v2h-1zM1087 727h1v2h-1zM54 728h1v1h-1zM66 728h2v1h-2zM72 728h8v1h-8zM241 728h1v1h-1zM248 728h3v1h-3zM387 728h2v1h-2zM405 728h1v2h-1zM558 728h4v1h-4zM573 728h2v1h-2zM1017 728h1v1h-1zM53 729h1v1h-1zM68 729h4v1h-4zM80 729h6v1h-6zM240 729h1v1h-1zM251 729h3v1h-3zM384 729h3v1h-3zM556 729h2v1h-2zM575 729h1v1h-1zM896 729h1v2h-1zM974 729h1v2h-1zM1016 729h1v1h-1zM1088 729h1v2h-1zM48 730h5v1h-5zM86 730h4v1h-4zM238 730h2v1h-2zM254 730h4v1h-4zM382 730h2v1h-2zM406 730h1v2h-1zM555 730h1v1h-1zM576 730h2v1h-2zM586 730h3v1h-3zM744 730h13v1h-13zM1015 730h1v1h-1zM42 731h6v1h-6zM90 731h3v1h-3zM237 731h1v1h-1zM258 731h3v1h-3zM275 731h2v1h-2zM379 731h3v1h-3zM554 731h1v1h-1zM578 731h2v1h-2zM582 731h4v1h-4zM589 731h1v2h-1zM739 731h5v1h-5zM757 731h1v1h-1zM836 731h4v1h-4zM895 731h1v2h-1zM975 731h1v2h-1zM1014 731h1v2h-1zM1089 731h1v2h-1zM38 732h4v1h-4zM93 732h2v1h-2zM236 732h1v1h-1zM261 732h2v1h-2zM273 732h2v1h-2zM277 732h1v1h-1zM376 732h3v1h-3zM407 732h1v1h-1zM552 732h2v1h-2zM580 732h2v1h-2zM736 732h3v1h-3zM758 732h1v1h-1zM835 732h1v1h-1zM840 732h5v1h-5zM28 733h10v1h-10zM95 733h1v1h-1zM234 733h2v1h-2zM263 733h2v1h-2zM271 733h2v1h-2zM278 733h1v1h-1zM348 733h1v1h-1zM374 733h2v1h-2zM408 733h1v2h-1zM538 733h4v1h-4zM551 733h1v1h-1zM590 733h1v2h-1zM734 733h2v1h-2zM759 733h1v1h-1zM834 733h1v1h-1zM845 733h2v1h-2zM894 733h1v2h-1zM976 733h1v1h-1zM1013 733h1v1h-1zM1090 733h1v2h-1zM27 734h1v2h-1zM96 734h2v1h-2zM232 734h2v1h-2zM265 734h2v1h-2zM269 734h2v1h-2zM279 734h1v1h-1zM347 734h1v1h-1zM349 734h2v1h-2zM363 734h11v1h-11zM534 734h4v1h-4zM542 734h2v1h-2zM550 734h1v1h-1zM732 734h2v1h-2zM760 734h1v1h-1zM832 734h2v1h-2zM847 734h2v1h-2zM977 734h1v2h-1zM1012 734h1v1h-1zM98 735h2v1h-2zM231 735h1v1h-1zM267 735h2v1h-2zM280 735h1v2h-1zM346 735h1v1h-1zM351 735h2v1h-2zM360 735h3v1h-3zM409 735h1v1h-1zM530 735h4v1h-4zM544 735h3v1h-3zM549 735h1v1h-1zM591 735h1v2h-1zM730 735h2v1h-2zM761 735h1v1h-1zM831 735h1v1h-1zM849 735h2v1h-2zM893 735h1v2h-1zM1011 735h1v1h-1zM1091 735h1v2h-1zM26 736h1v2h-1zM100 736h1v1h-1zM202 736h4v1h-4zM229 736h2v1h-2zM344 736h2v1h-2zM353 736h2v1h-2zM358 736h2v1h-2zM410 736h1v2h-1zM427 736h2v1h-2zM526 736h4v1h-4zM547 736h2v1h-2zM728 736h2v1h-2zM762 736h1v1h-1zM830 736h1v1h-1zM851 736h2v1h-2zM978 736h1v2h-1zM1010 736h1v1h-1zM1096 736h21v1h-21zM101 737h1v1h-1zM198 737h4v1h-4zM206 737h4v1h-4zM224 737h5v1h-5zM281 737h1v1h-1zM343 737h1v1h-1zM355 737h3v1h-3zM425 737h2v1h-2zM429 737h1v1h-1zM524 737h2v1h-2zM592 737h1v1h-1zM611 737h2v1h-2zM727 737h1v1h-1zM763 737h1v1h-1zM768 737h5v1h-5zM829 737h1v1h-1zM853 737h1v1h-1zM892 737h1v2h-1zM994 737h3v1h-3zM1009 737h1v1h-1zM1092 737h4v1h-4zM11 738h2v1h-2zM25 738h1v2h-1zM102 738h1v1h-1zM196 738h2v1h-2zM210 738h14v1h-14zM282 738h1v1h-1zM342 738h1v1h-1zM411 738h1v2h-1zM423 738h2v1h-2zM430 738h2v1h-2zM523 738h1v1h-1zM593 738h1v2h-1zM608 738h3v1h-3zM613 738h1v1h-1zM668 738h2v1h-2zM707 738h3v1h-3zM725 738h2v1h-2zM764 738h4v1h-4zM773 738h1v1h-1zM828 738h1v1h-1zM854 738h1v1h-1zM884 738h8v1h-8zM979 738h1v2h-1zM990 738h4v1h-4zM997 738h2v1h-2zM1008 738h1v1h-1zM9 739h2v1h-2zM13 739h1v1h-1zM103 739h1v1h-1zM194 739h2v1h-2zM283 739h1v1h-1zM341 739h1v1h-1zM421 739h2v1h-2zM432 739h1v1h-1zM522 739h1v1h-1zM606 739h2v1h-2zM614 739h1v1h-1zM666 739h2v1h-2zM670 739h4v1h-4zM705 739h2v1h-2zM710 739h2v1h-2zM722 739h3v1h-3zM774 739h1v1h-1zM827 739h1v1h-1zM855 739h1v1h-1zM883 739h1v2h-1zM984 739h6v1h-6zM999 739h1v1h-1zM1007 739h1v1h-1zM7 740h2v1h-2zM14 740h1v2h-1zM24 740h1v2h-1zM104 740h2v1h-2zM192 740h2v1h-2zM284 740h1v1h-1zM340 740h1v1h-1zM412 740h9v1h-9zM433 740h1v1h-1zM521 740h1v1h-1zM594 740h1v2h-1zM603 740h3v1h-3zM615 740h1v1h-1zM665 740h1v1h-1zM674 740h3v1h-3zM703 740h2v1h-2zM712 740h3v1h-3zM718 740h4v1h-4zM775 740h1v1h-1zM826 740h1v2h-1zM856 740h2v1h-2zM980 740h4v1h-4zM1000 740h2v1h-2zM1006 740h1v1h-1zM5 741h2v1h-2zM106 741h1v1h-1zM191 741h1v1h-1zM285 741h2v1h-2zM338 741h2v1h-2zM434 741h2v1h-2zM520 741h1v2h-1zM601 741h2v1h-2zM616 741h2v1h-2zM664 741h1v1h-1zM677 741h2v1h-2zM691 741h5v1h-5zM701 741h2v1h-2zM715 741h3v1h-3zM776 741h1v1h-1zM858 741h1v1h-1zM882 741h1v2h-1zM1002 741h2v1h-2zM1005 741h1v1h-1zM4 742h1v1h-1zM15 742h1v1h-1zM23 742h1v2h-1zM107 742h1v1h-1zM189 742h2v1h-2zM287 742h1v1h-1zM337 742h1v1h-1zM436 742h2v1h-2zM492 742h2v1h-2zM595 742h1v2h-1zM599 742h2v1h-2zM618 742h1v1h-1zM662 742h2v1h-2zM679 742h1v1h-1zM689 742h2v1h-2zM696 742h5v1h-5zM777 742h1v1h-1zM825 742h1v1h-1zM859 742h1v1h-1zM1004 742h1v1h-1zM16 743h1v1h-1zM108 743h2v1h-2zM148 743h1v1h-1zM187 743h2v1h-2zM288 743h2v1h-2zM336 743h1v1h-1zM438 743h2v1h-2zM491 743h1v1h-1zM494 743h2v1h-2zM519 743h1v1h-1zM597 743h2v1h-2zM619 743h1v1h-1zM661 743h1v1h-1zM680 743h2v1h-2zM687 743h2v1h-2zM778 743h1v1h-1zM824 743h1v1h-1zM860 743h1v1h-1zM881 743h1v2h-1zM17 744h1v1h-1zM22 744h1v2h-1zM110 744h2v1h-2zM147 744h1v2h-1zM149 744h1v1h-1zM184 744h3v1h-3zM290 744h2v1h-2zM296 744h5v1h-5zM334 744h2v1h-2zM440 744h3v1h-3zM490 744h1v1h-1zM496 744h3v1h-3zM518 744h1v1h-1zM596 744h1v1h-1zM620 744h1v1h-1zM660 744h1v1h-1zM682 744h2v1h-2zM685 744h2v1h-2zM779 744h1v1h-1zM823 744h1v1h-1zM861 744h1v1h-1zM18 745h1v2h-1zM112 745h3v1h-3zM150 745h1v1h-1zM182 745h2v1h-2zM292 745h4v1h-4zM301 745h1v2h-1zM333 745h1v1h-1zM443 745h3v1h-3zM489 745h1v1h-1zM499 745h5v1h-5zM517 745h1v1h-1zM621 745h1v2h-1zM659 745h1v1h-1zM684 745h1v1h-1zM780 745h2v1h-2zM822 745h1v2h-1zM862 745h1v1h-1zM880 745h1v1h-1zM21 746h1v2h-1zM115 746h3v1h-3zM146 746h1v1h-1zM151 746h1v1h-1zM164 746h18v1h-18zM332 746h1v1h-1zM446 746h2v1h-2zM488 746h1v2h-1zM504 746h13v1h-13zM658 746h1v1h-1zM782 746h2v1h-2zM794 746h20v1h-20zM863 746h1v1h-1zM879 746h1v2h-1zM19 747h1v1h-1zM118 747h2v1h-2zM145 747h1v1h-1zM152 747h1v2h-1zM162 747h2v1h-2zM302 747h1v2h-1zM330 747h2v1h-2zM448 747h3v1h-3zM622 747h1v1h-1zM657 747h1v1h-1zM784 747h3v1h-3zM790 747h4v1h-4zM814 747h4v1h-4zM821 747h1v1h-1zM864 747h2v1h-2zM20 748h1v1h-1zM120 748h3v1h-3zM144 748h1v2h-1zM161 748h1v1h-1zM329 748h1v1h-1zM451 748h3v1h-3zM466 748h4v1h-4zM487 748h1v1h-1zM623 748h1v1h-1zM656 748h1v2h-1zM787 748h3v1h-3zM818 748h3v1h-3zM866 748h1v1h-1zM878 748h1v2h-1zM123 749h10v1h-10zM153 749h1v1h-1zM160 749h1v1h-1zM303 749h1v2h-1zM328 749h1v1h-1zM454 749h4v1h-4zM462 749h4v1h-4zM470 749h2v1h-2zM486 749h1v1h-1zM624 749h1v2h-1zM867 749h1v1h-1zM133 750h2v1h-2zM143 750h1v1h-1zM154 750h1v1h-1zM158 750h2v1h-2zM316 750h2v1h-2zM326 750h2v1h-2zM458 750h4v1h-4zM472 750h3v1h-3zM485 750h1v1h-1zM655 750h1v1h-1zM868 750h2v1h-2zM877 750h1v2h-1zM135 751h1v1h-1zM142 751h1v1h-1zM155 751h1v1h-1zM157 751h1v1h-1zM304 751h1v2h-1zM315 751h1v1h-1zM318 751h4v1h-4zM325 751h1v1h-1zM475 751h10v1h-10zM625 751h1v1h-1zM654 751h1v1h-1zM870 751h4v1h-4zM136 752h2v1h-2zM141 752h1v2h-1zM156 752h1v1h-1zM314 752h1v2h-1zM322 752h3v1h-3zM626 752h1v1h-1zM644 752h4v1h-4zM653 752h1v1h-1zM874 752h3v1h-3zM138 753h2v1h-2zM305 753h1v2h-1zM627 753h1v2h-1zM642 753h2v1h-2zM648 753h5v1h-5zM140 754h1v1h-1zM313 754h1v1h-1zM640 754h2v1h-2zM306 755h1v2h-1zM312 755h1v1h-1zM628 755h2v1h-2zM639 755h1v1h-1zM311 756h1v1h-1zM630 756h4v1h-4zM637 756h2v1h-2zM307 757h1v2h-1zM310 757h1v2h-1zM634 757h3v1h-3zM308 759h2v1h-2zM308 760h1v1h-1z" fill="#1e90ff"/>
<rect x="0" y="21" width="3" height="800" fill="#fff"/>
<rect x="0" y="19" width="1" height="803" fill="#696969"/>
<rect x="3" y="23" width="1" height="777" fill="#000"/>
<rect x="3" y="23" width="1417" height="1" fill="#000"/>
<rect x="1419" y="23" width="1" height="777" fill="#000"/>
<rect x="3" y="562" width="1417" height="1" fill="#000"/>
<rect x="3" y="564" width="1417" height="1" fill="#000"/>
<rect x="3" y="563" width="1417" height="1" fill="#fff"/>
<rect x="3" y="667" width="1417" height="1" fill="#000"/>
<rect x="3" y="669" width="1417" height="1" fill="#000"/>
<rect x="3" y="668" width="1417" height="1" fill="#fff"/>
<rect x="3" y="799" width="1418" height="1" fill="#000"/>
<rect x="1420" y="31" width="2" height="1" fill="#000"/>
<rect x="1420" y="64" width="2" height="1" fill="#000"/>
<rect x="1420" y="97" width="2" height="1" fill="#000"/>
<rect x="1420" y="130" width="2" height="1" fill="#000"/>
<rect x="1420" y="163" width="2" height="1" fill="#000"/>
<rect x="1420" y="197" width="2" height="1" fill="#000"/>
<rect x="1420" y="230" width="2" height="1" fill="#000"/>
<rect x="1420" y="263" width="2" height="1" fill="#000"/>
<rect x="1420" y="296" width="2" height="1" fill="#000"/>
<rect x="1420" y="362" width="2" height="1" fill="#000"/>
<rect x="1420" y="395" width="2" height="1" fill="#000"/>
<rect x="1420" y="428" width="2" height="1" fill="#000"/>
<rect x="1420" y="461" width="2" height="1" fill="#000"/>
<rect x="1420" y="494" width="2" height="1" fill="#000"/>
<rect x="1420" y="527" width="2" height="1" fill="#000"/>
<rect x="1420" y="560" width="2" height="1" fill="#000"/>
<rect x="4" y="800" width="1" height="3" fill="#000"/>
<rect x="68" y="800" width="1" height="3" fill="#000"/>
<rect x="132" y="800" width="1" height="3" fill="#000"/>
<rect x="196" y="800" width="1" height="3" fill="#000"/>
<rect x="260" y="800" width="1" height="3" fill="#000"/>
<rect x="324" y="800" width="1" height="3" fill="#000"/>
<rect x="388" y="800" width="1" height="3" fill="#000"/>
<rect x="452" y="800" width="1" height="3" fill="#000"/>
<rect x="516" y="800" width="1" height="3" fill="#000"/>
<rect x="580" y="800" width="1" height="3" fill="#000"/>
<rect x="644" y="800" width="1" height="3" fill="#000"/>
<rect x="708" y="800" width="1" height="3" fill="#000"/>
<rect x="772" y="800" width="1" height="3" fill="#000"/>
<rect x="836" y="800" width="1" height="3" fill="#000"/>
<rect x="900" y="800" width="1" height="3" fill="#000"/>
<rect x="964" y="800" width="1" height="3" fill="#000"/>
<rect x="1028" y="800" width="1" height="3" fill="#000"/>
<rect x="1092" y="800" width="1" height="3" fill="#000"/>
<rect x="1420" y="329" width="2" height="1" fill="#000"/>
<rect x="1421" y="324" width="40" height="11" fill="#000"/></svg>
<div class="t" style="left:1425.5px;top:28.0px">1.15285</div>
<div class="t" style="left:1425.5px;top:61.0px">1.15015</div>
<div class="t" style="left:1425.5px;top:94.0px">1.14750</div>
<div class="t" style="left:1425.5px;top:127.1px">1.14480</div>
<div class="t" style="left:1425.5px;top:160.1px">1.14210</div>
<div class="t" style="left:1425.5px;top:193.1px">1.13945</div>
<div class="t" style="left:1425.5px;top:226.1px">1.13675</div>
<div class="t" style="left:1425.5px;top:259.1px">1.13405</div>
<div class="t" style="left:1425.5px;top:292.2px">1.13135</div>
<div class="t" style="left:1425.5px;top:358.2px">1.12600</div>
<div class="t" style="left:1425.5px;top:391.2px">1.12330</div>
<div class="t" style="left:1425.5px;top:424.2px">1.12065</div>
<div class="t" style="left:1425.5px;top:457.3px">1.11795</div>
<div class="t" style="left:1425.5px;top:490.3px">1.11525</div>
<div class="t" style="left:1425.5px;top:523.3px">1.11255</div>
<div class="t" style="left:1425.5px;top:556.3px">1.10990</div>
<div class="t" style="left:1425.5px;top:325.6px;color:#fff">1.12866</div>
<div class="t" style="left:1423px;top:568.0px">0.004465</div>
<div class="t" style="left:1423px;top:618.3px">0.00</div>
<div class="t" style="left:1423px;top:657.3px">-0.003715</div>
<div class="t" style="left:1423px;top:673.4px">100</div>
<div class="t" style="left:1423px;top:706.6px">70</div>
<div class="t" style="left:1423px;top:757.2px">30</div>
<div class="t" style="left:1423px;top:789.3px">0</div>
<div class="t" style="left:3px;top:803.5px;transform:scaleX(0.935)">22 Jan 2019</div>
<div class="t" style="left:67px;top:803.5px;transform:scaleX(0.935)">31 Jan 2019</div>
<div class="t" style="left:131px;top:803.5px;transform:scaleX(0.935)">10 Feb 2019</div>
<div class="t" style="left:195px;top:803.5px;transform:scaleX(0.935)">19 Feb 2019</div>
<div class="t" style="left:259px;top:803.5px;transform:scaleX(0.935)">28 Feb 2019</div>
<div class="t" style="left:323px;top:803.5px;transform:scaleX(0.935)">10 Mar 2019</div>
<div class="t" style="left:387px;top:803.5px;transform:scaleX(0.935)">19 Mar 2019</div>
<div class="t" style="left:451px;top:803.5px;transform:scaleX(0.935)">28 Mar 2019</div>
<div class="t" style="left:515px;top:803.5px;transform:scaleX(0.935)">7 Apr 2019</div>
<div class="t" style="left:579px;top:803.5px;transform:scaleX(0.935)">16 Apr 2019</div>
<div class="t" style="left:643px;top:803.5px;transform:scaleX(0.935)">26 Apr 2019</div>
<div class="t" style="left:707px;top:803.5px;transform:scaleX(0.935)">6 May 2019</div>
<div class="t" style="left:771px;top:803.5px;transform:scaleX(0.935)">15 May 2019</div>
<div class="t" style="left:835px;top:803.5px;transform:scaleX(0.935)">24 May 2019</div>
<div class="t" style="left:899px;top:803.5px;transform:scaleX(0.935)">3 Jun 2019</div>
<div class="t" style="left:963px;top:803.5px;transform:scaleX(0.935)">12 Jun 2019</div>
<div class="t" style="left:1027px;top:803.5px;transform:scaleX(0.935)">21 Jun 2019</div>
<div class="t" style="left:1091px;top:803.5px;transform:scaleX(0.935)">1 Jul 2019</div>
<div class="t" style="left:8px;top:568.5px;transform:scaleX(0.932)">MACD(12,26,9) 0.001743 0.003281</div>
<div class="t" style="left:8px;top:673.5px;transform:scaleX(0.925)">RSI(14) 48.4549</div>
<div style="position:absolute;left:7px;top:29.5px;width:0;height:0;border-left:4.5px solid transparent;border-right:4.5px solid transparent;border-bottom:5px solid #000;"></div>
<div class="t" style="left:19.4px;top:27.5px;font-size:10px;transform:scaleX(0.935)">EURUSD-,Daily</div>
<div class="t" style="left:92.8px;top:27.5px;font-size:10px;transform:scaleX(0.915)">1.12864 1.12883 1.12841 1.12866</div>
<div style="position:absolute;left:7px;top:43px;width:51px;height:24px;background:linear-gradient(#f14a4a,#d83030);"></div>
<div style="position:absolute;left:175px;top:43px;width:51px;height:24px;background:linear-gradient(#f14a4a,#d83030);"></div>
<div style="position:absolute;left:7px;top:67px;width:109px;height:40px;background:linear-gradient(#d02828,#a80000);"></div>
<div style="position:absolute;left:118px;top:67px;width:108px;height:40px;background:linear-gradient(#d02828,#a80000);"></div>
<div style="position:absolute;left:11px;top:66px;width:44px;height:1px;background:#b01818;"></div>
<div style="position:absolute;left:178px;top:66px;width:44px;height:1px;background:#b01818;"></div>
<div style="position:absolute;left:58px;top:43px;width:117px;height:24px;background:#f0f0f0;"></div>
<div style="position:absolute;left:61px;top:43px;width:110px;height:20px;background:#fff;border:1px solid #a0a8b0;"></div>
<div style="position:absolute;left:62px;top:44px;width:20px;height:20px;background:linear-gradient(#f2f2f2 0%,#e4e4e4 48%,#cfcfcf 52%,#c4c4c4 100%);border:1px solid #b0b0b0;box-sizing:border-box;"></div>
<div style="position:absolute;left:151px;top:44px;width:20px;height:20px;background:linear-gradient(#f2f2f2 0%,#e4e4e4 48%,#cfcfcf 52%,#c4c4c4 100%);border:1px solid #b0b0b0;box-sizing:border-box;"></div>
<div style="position:absolute;left:69px;top:52px;width:0;height:0;border-left:3px solid transparent;border-right:3px solid transparent;border-top:3px solid #4060c0;"></div>
<div style="position:absolute;left:158px;top:52px;width:0;height:0;border-left:3px solid transparent;border-right:3px solid transparent;border-bottom:3px solid #4060c0;"></div>
<div class="btn" style="left:123px;top:47px;width:24px;text-align:right;color:#000;font-size:12px;line-height:15px;">1.00</div>
<div class="btn" style="left:19.4px;top:47px;font-size:11px;line-height:14px;transform:scaleX(0.95);transform-origin:0 0;">SELL</div>
<div class="btn" style="left:187.3px;top:47px;font-size:11px;line-height:14px;">BUY</div>
<div class="btn" style="left:27.6px;top:88px;font-size:12px;line-height:13px;font-weight:bold;">1.12</div>
<div class="btn" style="left:55.3px;top:66.5px;font-size:35px;line-height:38px;transform:scaleX(0.915);transform-origin:0 0;">86</div>
<div class="btn" style="left:94px;top:71.5px;font-size:11px;line-height:13px;font-weight:bold;">6</div>
<div class="btn" style="left:137.7px;top:88px;font-size:12px;line-height:13px;font-weight:bold;">1.12</div>
<div class="btn" style="left:165.8px;top:66.5px;font-size:35px;line-height:38px;transform:scaleX(0.915);transform-origin:0 0;">88</div>
<div class="btn" style="left:205px;top:71.5px;font-size:11px;line-height:13px;font-weight:bold;">4</div>
<div id="botg"></div><div id="bot"></div><div id="botl"></div>
<div style="position:absolute;left:0px;top:823px;width:1px;height:19px;background:#4a4a4a;"></div>
<div id="atab"></div>
<div class="tab" style="left:16px;color:#000">EURUSD-,Daily</div>
<div class="tab" style="left:123px">AUDUSD-,Daily</div>
<div class="tab" style="left:232.7px">USDCHF-,Daily</div>
<div class="tab" style="left:339.8px">USDCAD-,Daily</div>
<div class="tab" style="left:449px">USDCNH-,Daily</div>
<div class="tab" style="left:560.6px">EURCHF-,Weekly</div>
<div class="tab" style="left:680.4px">XAUUSD-,H1</div>
<div class="tab" style="left:776.5px">GBPUSD-,H1</div>
<div class="tab" style="left:872.4px">UKOil-,H1</div>
<div class="sep" style="left:222px"></div>
<div class="sep" style="left:328px"></div>
<div class="sep" style="left:437px"></div>
<div class="sep" style="left:550px"></div>
<div class="sep" style="left:669px"></div>
<div class="sep" style="left:765px"></div>
<div class="sep" style="left:861px"></div>
<div class="sep" style="left:942px"></div>
<div style="position:absolute;left:1435px;top:828px;width:0;height:0;border-top:3.5px solid transparent;border-bottom:3.5px solid transparent;border-right:3.5px solid #a0a0a0;"></div>
<div style="position:absolute;left:1454px;top:828px;width:0;height:0;border-top:3.5px solid transparent;border-bottom:3.5px solid transparent;border-left:3.5px solid #a0a0a0;"></div>
</body></html>
